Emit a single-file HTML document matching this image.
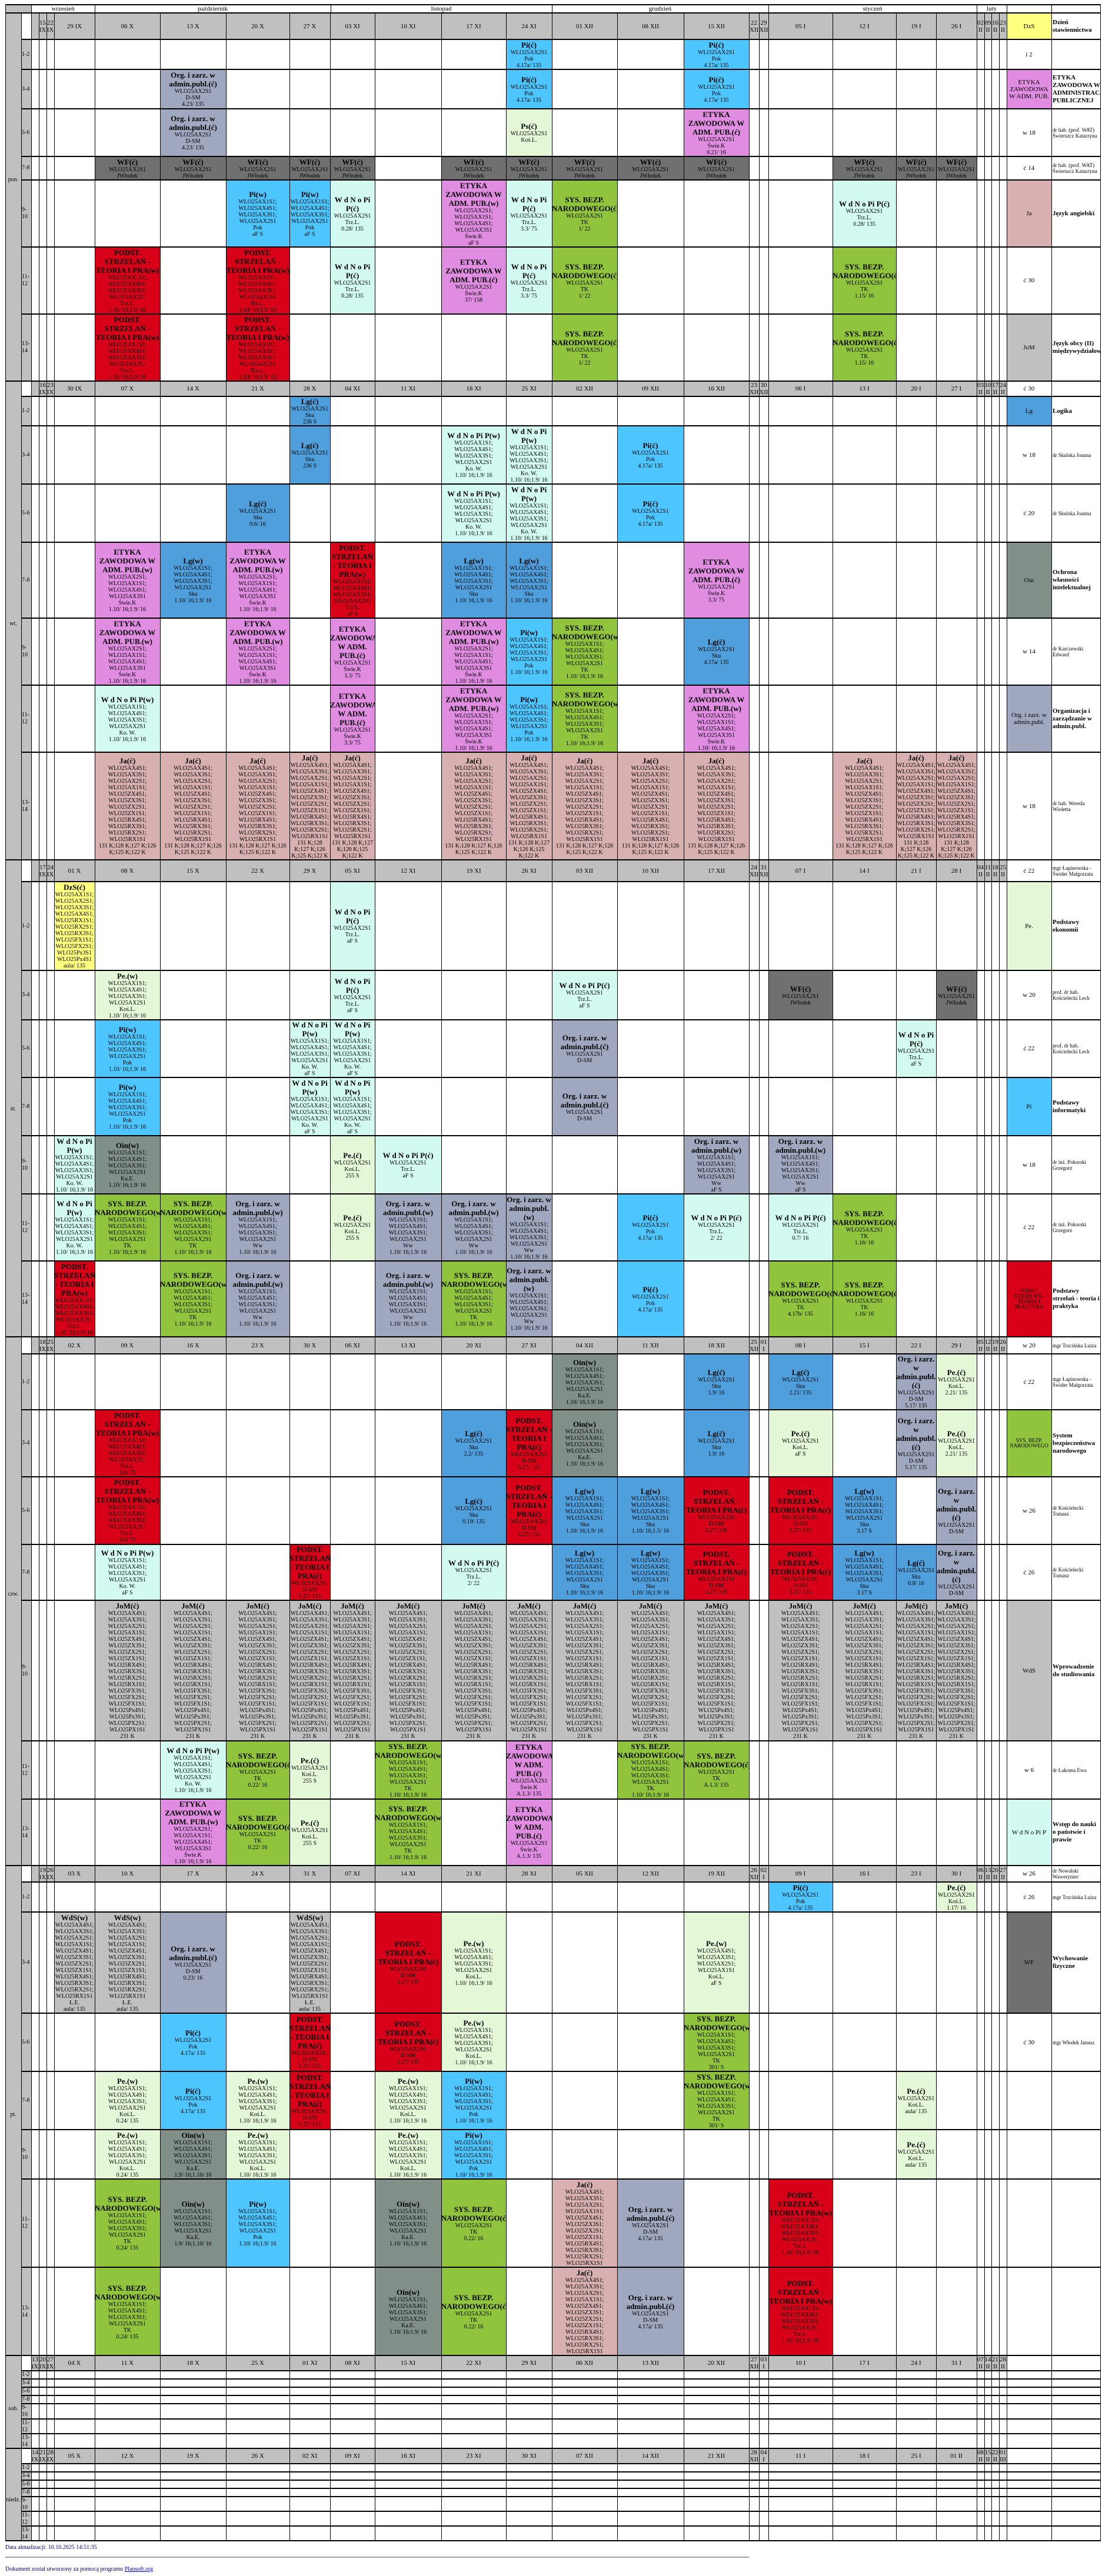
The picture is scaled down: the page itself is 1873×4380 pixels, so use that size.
<!DOCTYPE html>
<html><head><meta charset="utf-8">
<style>
*{margin:0;padding:0;box-sizing:border-box}
body{width:1873px;height:4380px;background:#fff;position:relative;overflow:hidden;font-family:"Liberation Serif",serif;color:#000}
div{position:absolute}
.g{background:#c0c0c0}
.b{display:flex;align-items:center;justify-content:center;text-align:center;overflow:hidden;font:10px/11px "Liberation Serif",serif}
.b>div{position:static;width:100%}
.b b{font-size:13px;line-height:15px}
.h{display:flex;align-items:center;justify-content:center;text-align:center;font:11px/12px "Liberation Serif",serif;overflow:hidden}
.hr{display:flex;align-items:center;left:37px;width:16px;font:10px/12px "Liberation Serif",serif}
.vl{width:1px;background:#000;top:22px;height:4298px}
.hl{height:2px;background:#000;left:36px;width:1835px}
.hd{height:2px;background:#000;left:9px;width:1862px}
.dl{left:9px;width:27px;font:10px "Liberation Serif",serif;text-align:center}
.q{font:bold 11px/13px "Liberation Serif",serif;padding-left:2px;display:flex;align-items:center;overflow:hidden}
.qs{font:9px/10px "Liberation Serif",serif;padding-left:2px;display:flex;align-items:center;overflow:hidden}
.pi{background:#4dc6ff}.lg{background:#4f9fdc}.org{background:#a0a8c0}.wf{background:#707070}
.et{background:#e08ce0}.mi{background:#d2faf0}.pe{background:#e4f8d8}.sy{background:#90c43c}
.rd{background:#d80018}.ja{background:#d8b0b0}.jo{background:#c0c0c0}.oi{background:#809088}.ye{background:#ffff80}
.cA{left:92px;width:69px}.cB{left:161px;width:111px}.cC{left:272px;width:112px}.cD{left:384px;width:108px}
.cE{left:492px;width:69px}.cF{left:561px;width:76px}.cG{left:637px;width:113px}.cH{left:750px;width:110px}
.cI{left:860px;width:78px}.cJ{left:938px;width:111px}.cK{left:1049px;width:113px}.cL{left:1162px;width:111px}
.cX1{left:1273px;width:17px}.cX2{left:1290px;width:16px}
.cM{left:1306px;width:109px}.cN{left:1415px;width:108px}.cO{left:1523px;width:68px}.cP{left:1591px;width:69px}
.f1{left:1660px;width:13px}.f2{left:1673px;width:12px}.f3{left:1685px;width:13px}.f4{left:1698px;width:13px}
.s1{left:53px;width:13px}.s2{left:66px;width:13px}.s3{left:79px;width:13px}
.cZ{left:1711px;width:76px}.cQ{left:1787px;width:84px}
.sm{font-size:9px;line-height:9px}
</style></head><body>

<!-- background fills -->
<div class="g" style="left:9px;top:8px;width:44px;height:14px"></div>
<div class="g" style="left:9px;top:22px;width:27px;height:4298px"></div>
<div class="g" style="left:36px;top:22px;width:17px;height:4298px"></div>
<!-- header rows -->
<div style="left:36px;top:22px;width:17px;height:45px;background:#fff"></div>
<div class="g" style="left:53px;top:22px;width:1658px;height:45px"></div>
<div style="left:36px;top:648px;width:17px;height:26px;background:#fff"></div>
<div class="g" style="left:53px;top:648px;width:1658px;height:26px"></div>
<div style="left:36px;top:1462px;width:17px;height:37px;background:#fff"></div>
<div class="g" style="left:53px;top:1462px;width:1658px;height:37px"></div>
<div style="left:36px;top:2273px;width:17px;height:29px;background:#fff"></div>
<div class="g" style="left:53px;top:2273px;width:1658px;height:29px"></div>
<div style="left:36px;top:3172px;width:17px;height:28px;background:#fff"></div>
<div class="g" style="left:53px;top:3172px;width:1658px;height:28px"></div>
<div style="left:36px;top:4005px;width:17px;height:26px;background:#fff"></div>
<div class="g" style="left:53px;top:4005px;width:1658px;height:26px"></div>
<div style="left:36px;top:4163px;width:17px;height:26px;background:#fff"></div>
<div class="g" style="left:53px;top:4163px;width:1658px;height:26px"></div>

<!-- month row -->
<div class="h" style="left:53px;top:8px;width:108px;height:14px">wrzesień</div>
<div class="h" style="left:161px;top:8px;width:401px;height:14px">październik</div>
<div class="h" style="left:562px;top:8px;width:376px;height:14px">listopad</div>
<div class="h" style="left:938px;top:8px;width:368px;height:14px">grudzień</div>
<div class="h" style="left:1306px;top:8px;width:354px;height:14px">styczeń</div>
<div class="h" style="left:1660px;top:8px;width:51px;height:14px">luty</div>

<!-- ============ PON ============ -->
<div class="h s2" style="top:22px;height:45px">15<br>IX</div><div class="h s3" style="top:22px;height:45px">22<br>IX</div>
<div class="h cA" style="top:22px;height:45px">29 IX</div><div class="h cB" style="top:22px;height:45px">06 X</div><div class="h cC" style="top:22px;height:45px">13 X</div><div class="h cD" style="top:22px;height:45px">20 X</div><div class="h cE" style="top:22px;height:45px">27 X</div><div class="h cF" style="top:22px;height:45px">03 XI</div><div class="h cG" style="top:22px;height:45px">10 XI</div><div class="h cH" style="top:22px;height:45px">17 XI</div><div class="h cI" style="top:22px;height:45px">24 XI</div><div class="h cJ" style="top:22px;height:45px">01 XII</div><div class="h cK" style="top:22px;height:45px">08 XII</div><div class="h cL" style="top:22px;height:45px">15 XII</div><div class="h cX1" style="top:22px;height:45px">22<br>XII</div><div class="h cX2" style="top:22px;height:45px">29<br>XII</div><div class="h cM" style="top:22px;height:45px">05 I</div><div class="h cN" style="top:22px;height:45px">12 I</div><div class="h cO" style="top:22px;height:45px">19 I</div><div class="h cP" style="top:22px;height:45px">26 I</div><div class="h f1" style="top:22px;height:45px">02<br>II</div><div class="h f2" style="top:22px;height:45px">09<br>II</div><div class="h f3" style="top:22px;height:45px">16<br>II</div><div class="h f4" style="top:22px;height:45px">23<br>II</div>
<div class="h cZ ye" style="top:22px;height:45px">DzS</div><div class="q cQ" style="top:22px;height:45px">Dzień stawiennictwa</div>
<div class="dl" style="top:300px">pon.</div>
<div class="hr" style="top:67px;height:51px">1-2</div><div class="hr" style="top:118px;height:67px">3-4</div><div class="hr" style="top:185px;height:81px">5-6</div><div class="hr" style="top:266px;height:40px">7-8</div><div class="hr" style="top:306px;height:114px">9-<br>10</div><div class="hr" style="top:420px;height:114px">11-<br>12</div><div class="hr" style="top:534px;height:114px">13-<br>14</div>

<div class="b pi cI" style="top:67px;height:51px"><div><b>Pi(ć)</b><br>WLO25AX2S1<br>Pok<br>4.17a/ 135</div></div>
<div class="b pi cL" style="top:67px;height:51px"><div><b>Pi(ć)</b><br>WLO25AX2S1<br>Pok<br>4.17a/ 135</div></div>
<div class="b org cC" style="top:118px;height:67px"><div><b>Org. i zarz. w admin.publ.(ć)</b><br>WLO25AX2S1<br>D-SM<br>4.23/ 135</div></div>
<div class="b pi cI" style="top:118px;height:67px"><div><b>Pi(ć)</b><br>WLO25AX2S1<br>Pok<br>4.17a/ 135</div></div>
<div class="b pi cL" style="top:118px;height:67px"><div><b>Pi(ć)</b><br>WLO25AX2S1<br>Pok<br>4.17a/ 135</div></div>
<div class="b org cC" style="top:185px;height:81px"><div><b>Org. i zarz. w admin.publ.(ć)</b><br>WLO25AX2S1<br>D-SM<br>4.23/ 135</div></div>
<div class="b pe cI" style="top:185px;height:81px"><div><b>Ps(ć)</b><br>WLO25AX2S1<br>Koś.L.</div></div>
<div class="b et cL" style="top:185px;height:81px"><div><b>ETYKA ZAWODOWA W ADM. PUB.(ć)</b><br>WLO25AX2S1<br>Świe.K<br>0.21/ 16</div></div>
<div class="b wf cB" style="top:266px;height:40px"><div><b>WF(ć)</b><br>WLO25AX2S1<br>JWłodek</div></div>
<div class="b wf cC" style="top:266px;height:40px"><div><b>WF(ć)</b><br>WLO25AX2S1<br>JWłodek</div></div>
<div class="b wf cD" style="top:266px;height:40px"><div><b>WF(ć)</b><br>WLO25AX2S1<br>JWłodek</div></div>
<div class="b wf cE" style="top:266px;height:40px"><div><b>WF(ć)</b><br>WLO25AX2S1<br>JWłodek</div></div>
<div class="b wf cF" style="top:266px;height:40px"><div><b>WF(ć)</b><br>WLO25AX2S1<br>JWłodek</div></div>
<div class="b wf cH" style="top:266px;height:40px"><div><b>WF(ć)</b><br>WLO25AX2S1<br>JWłodek</div></div>
<div class="b wf cI" style="top:266px;height:40px"><div><b>WF(ć)</b><br>WLO25AX2S1<br>JWłodek</div></div>
<div class="b wf cJ" style="top:266px;height:40px"><div><b>WF(ć)</b><br>WLO25AX2S1<br>JWłodek</div></div>
<div class="b wf cK" style="top:266px;height:40px"><div><b>WF(ć)</b><br>WLO25AX2S1<br>JWłodek</div></div>
<div class="b wf cL" style="top:266px;height:40px"><div><b>WF(ć)</b><br>WLO25AX2S1<br>JWłodek</div></div>
<div class="b wf cN" style="top:266px;height:40px"><div><b>WF(ć)</b><br>WLO25AX2S1<br>JWłodek</div></div>
<div class="b wf cO" style="top:266px;height:40px"><div><b>WF(ć)</b><br>WLO25AX2S1<br>JWłodek</div></div>
<div class="b wf cP" style="top:266px;height:40px"><div><b>WF(ć)</b><br>WLO25AX2S1<br>JWłodek</div></div>
<div class="b pi cD" style="top:306px;height:114px"><div><b>Pi(w)</b><br>WLO25AX1S1;<br>WLO25AX4S1;<br>WLO25AX3S1;<br>WLO25AX2S1<br>Pok<br>aF S</div></div>
<div class="b pi cE" style="top:306px;height:114px"><div><b>Pi(w)</b><br>WLO25AX1S1;<br>WLO25AX4S1;<br>WLO25AX3S1;<br>WLO25AX2S1<br>Pok<br>aF S</div></div>
<div class="b mi cF" style="top:306px;height:114px"><div><b>W d N o Pi P(ć)</b><br>WLO25AX2S1<br>Trz.L.<br>0.28/ 135</div></div>
<div class="b et cH" style="top:306px;height:114px"><div><b>ETYKA ZAWODOWA W ADM. PUB.(w)</b><br>WLO25AX2S1;<br>WLO25AX1S1;<br>WLO25AX4S1;<br>WLO25AX3S1<br>Świe.K<br>aF S</div></div>
<div class="b mi cI" style="top:306px;height:114px"><div><b>W d N o Pi P(ć)</b><br>WLO25AX2S1<br>Trz.L.<br>3.3/ 75</div></div>
<div class="b sy cJ" style="top:306px;height:114px"><div><b>SYS. BEZP. NARODOWEGO(ć)</b><br>WLO25AX2S1<br>TK<br>1/ 22</div></div>
<div class="b mi cN" style="top:306px;height:114px"><div><b>W d N o Pi P(ć)</b><br>WLO25AX2S1<br>Trz.L.<br>0.28/ 135</div></div>
<div class="b rd cB" style="top:420px;height:114px"><div><b>PODST. STRZELAŃ - TEORIA I PRA(w)</b><br>WLO25AX1S1;<br>WLO25AX4S1;<br>WLO25AX3S1;<br>WLO25AX2S1<br>Trz.L.<br>1.10/ 16;1.9/ 16</div></div>
<div class="b rd cD" style="top:420px;height:114px"><div><b>PODST. STRZELAŃ - TEORIA I PRA(w)</b><br>WLO25AX1S1;<br>WLO25AX4S1;<br>WLO25AX3S1;<br>WLO25AX2S1<br>Trz.L.<br>1.10/ 16;1.9/ 16</div></div>
<div class="b mi cF" style="top:420px;height:114px"><div><b>W d N o Pi P(ć)</b><br>WLO25AX2S1<br>Trz.L.<br>0.28/ 135</div></div>
<div class="b et cH" style="top:420px;height:114px"><div><b>ETYKA ZAWODOWA W ADM. PUB.(ć)</b><br>WLO25AX2S1<br>Świe.K<br>37/ 158</div></div>
<div class="b mi cI" style="top:420px;height:114px"><div><b>W d N o Pi P(ć)</b><br>WLO25AX2S1<br>Trz.L.<br>3.3/ 75</div></div>
<div class="b sy cJ" style="top:420px;height:114px"><div><b>SYS. BEZP. NARODOWEGO(ć)</b><br>WLO25AX2S1<br>TK<br>1/ 22</div></div>
<div class="b sy cN" style="top:420px;height:114px"><div><b>SYS. BEZP. NARODOWEGO(ć)</b><br>WLO25AX2S1<br>TK<br>1.15/ 16</div></div>
<div class="b rd cB" style="top:534px;height:114px"><div><b>PODST. STRZELAŃ - TEORIA I PRA(w)</b><br>WLO25AX1S1;<br>WLO25AX4S1;<br>WLO25AX3S1;<br>WLO25AX2S1<br>Trz.L.<br>1.10/ 16;1.9/ 16</div></div>
<div class="b rd cD" style="top:534px;height:114px"><div><b>PODST. STRZELAŃ - TEORIA I PRA(w)</b><br>WLO25AX1S1;<br>WLO25AX4S1;<br>WLO25AX3S1;<br>WLO25AX2S1<br>Trz.L.<br>1.10/ 16;1.9/ 16</div></div>
<div class="b sy cJ" style="top:534px;height:114px"><div><b>SYS. BEZP. NARODOWEGO(ć)</b><br>WLO25AX2S1<br>TK<br>1/ 22</div></div>
<div class="b sy cN" style="top:534px;height:114px"><div><b>SYS. BEZP. NARODOWEGO(ć)</b><br>WLO25AX2S1<br>TK<br>1.15/ 16</div></div>
<!-- legend pon -->
<div class="h cZ" style="top:67px;height:51px">i 2</div>
<div class="h cZ et" style="top:118px;height:67px">ETYKA ZAWODOWA W ADM. PUB.</div><div class="q cQ" style="top:118px;height:67px">ETYKA ZAWODOWA W ADMINISTRACJI PUBLICZNEJ</div>
<div class="h cZ" style="top:185px;height:81px">w 18</div><div class="qs cQ" style="top:185px;height:81px">dr hab. (prof. WAT) Świerszcz Katarzyna</div>
<div class="h cZ" style="top:266px;height:40px">ć 14</div><div class="qs cQ" style="top:266px;height:40px">dr hab. (prof. WAT) Świerszcz Katarzyna</div>
<div class="h cZ ja" style="top:306px;height:114px">Ja</div><div class="q cQ" style="top:306px;height:114px">Język angielski</div>
<div class="h cZ" style="top:420px;height:114px">ć 30</div>
<div class="h cZ jo" style="top:534px;height:114px">JoM</div><div class="q cQ" style="top:534px;height:114px">Język obcy (II) międzywydziałowy</div>

<!-- ============ WT ============ -->
<div class="h s2" style="top:648px;height:26px">16<br>IX</div><div class="h s3" style="top:648px;height:26px">23<br>IX</div>
<div class="h cA" style="top:648px;height:26px">30 IX</div><div class="h cB" style="top:648px;height:26px">07 X</div><div class="h cC" style="top:648px;height:26px">14 X</div><div class="h cD" style="top:648px;height:26px">21 X</div><div class="h cE" style="top:648px;height:26px">28 X</div><div class="h cF" style="top:648px;height:26px">04 XI</div><div class="h cG" style="top:648px;height:26px">11 XI</div><div class="h cH" style="top:648px;height:26px">18 XI</div><div class="h cI" style="top:648px;height:26px">25 XI</div><div class="h cJ" style="top:648px;height:26px">02 XII</div><div class="h cK" style="top:648px;height:26px">09 XII</div><div class="h cL" style="top:648px;height:26px">16 XII</div><div class="h cX1" style="top:648px;height:26px">23<br>XII</div><div class="h cX2" style="top:648px;height:26px">30<br>XII</div><div class="h cM" style="top:648px;height:26px">06 I</div><div class="h cN" style="top:648px;height:26px">13 I</div><div class="h cO" style="top:648px;height:26px">20 I</div><div class="h cP" style="top:648px;height:26px">27 I</div><div class="h f1" style="top:648px;height:26px">03<br>II</div><div class="h f2" style="top:648px;height:26px">10<br>II</div><div class="h f3" style="top:648px;height:26px">17<br>II</div><div class="h f4" style="top:648px;height:26px">24<br>II</div>
<div class="h cZ" style="top:648px;height:26px;background:#fff">ć 30</div><div style="left:1787px;top:648px;width:84px;height:26px;background:#fff"></div>
<div class="dl" style="top:1055px">wt.</div>
<div class="hr" style="top:674px;height:50px">1-2</div><div class="hr" style="top:724px;height:99px">3-4</div><div class="hr" style="top:823px;height:99px">5-6</div><div class="hr" style="top:922px;height:129px">7-8</div><div class="hr" style="top:1051px;height:114px">9-<br>10</div><div class="hr" style="top:1165px;height:114px">11-<br>12</div><div class="hr" style="top:1279px;height:183px">13-<br>14</div>

<div class="b lg cE" style="top:674px;height:50px"><div><b>Lg(ć)</b><br>WLO25AX2S1<br>Sku<br>236 S</div></div>
<div class="b lg cE" style="top:724px;height:99px"><div><b>Lg(ć)</b><br>WLO25AX2S1<br>Sku<br>236 S</div></div>
<div class="b mi cH" style="top:724px;height:99px"><div><b>W d N o Pi P(w)</b><br>WLO25AX1S1;<br>WLO25AX4S1;<br>WLO25AX3S1;<br>WLO25AX2S1<br>Ko. W.<br>1.10/ 16;1.9/ 16</div></div>
<div class="b mi cI" style="top:724px;height:99px"><div><b>W d N o Pi P(w)</b><br>WLO25AX1S1;<br>WLO25AX4S1;<br>WLO25AX3S1;<br>WLO25AX2S1<br>Ko. W.<br>1.10/ 16;1.9/ 16</div></div>
<div class="b pi cK" style="top:724px;height:99px"><div><b>Pi(ć)</b><br>WLO25AX2S1<br>Pok<br>4.17a/ 135</div></div>
<div class="b lg cD" style="top:823px;height:99px"><div><b>Lg(ć)</b><br>WLO25AX2S1<br>Sku<br>0.6/ 16</div></div>
<div class="b mi cH" style="top:823px;height:99px"><div><b>W d N o Pi P(w)</b><br>WLO25AX1S1;<br>WLO25AX4S1;<br>WLO25AX3S1;<br>WLO25AX2S1<br>Ko. W.<br>1.10/ 16;1.9/ 16</div></div>
<div class="b mi cI" style="top:823px;height:99px"><div><b>W d N o Pi P(w)</b><br>WLO25AX1S1;<br>WLO25AX4S1;<br>WLO25AX3S1;<br>WLO25AX2S1<br>Ko. W.<br>1.10/ 16;1.9/ 16</div></div>
<div class="b pi cK" style="top:823px;height:99px"><div><b>Pi(ć)</b><br>WLO25AX2S1<br>Pok<br>4.17a/ 135</div></div>
<div class="b et cB" style="top:922px;height:129px"><div><b>ETYKA ZAWODOWA W ADM. PUB.(w)</b><br>WLO25AX2S1;<br>WLO25AX1S1;<br>WLO25AX4S1;<br>WLO25AX3S1<br>Świe.K<br>1.10/ 16;1.9/ 16</div></div>
<div class="b lg cC" style="top:922px;height:129px"><div><b>Lg(w)</b><br>WLO25AX1S1;<br>WLO25AX4S1;<br>WLO25AX3S1;<br>WLO25AX2S1<br>Sku<br>1.10/ 16;1.9/ 16</div></div>
<div class="b et cD" style="top:922px;height:129px"><div><b>ETYKA ZAWODOWA W ADM. PUB.(w)</b><br>WLO25AX2S1;<br>WLO25AX1S1;<br>WLO25AX4S1;<br>WLO25AX3S1<br>Świe.K<br>1.10/ 16;1.9/ 16</div></div>
<div class="b rd cF" style="top:922px;height:129px"><div><b>PODST. STRZELAŃ - TEORIA I PRA(w)</b><br>WLO25AX1S1;<br>WLO25AX4S1;<br>WLO25AX3S1;<br>WLO25AX2S1<br>Trz.L.<br>aF S</div></div>
<div class="b lg cH" style="top:922px;height:129px"><div><b>Lg(w)</b><br>WLO25AX1S1;<br>WLO25AX4S1;<br>WLO25AX3S1;<br>WLO25AX2S1<br>Sku<br>1.10/ 16;1.9/ 16</div></div>
<div class="b lg cI" style="top:922px;height:129px"><div><b>Lg(w)</b><br>WLO25AX1S1;<br>WLO25AX4S1;<br>WLO25AX3S1;<br>WLO25AX2S1<br>Sku<br>1.10/ 16;1.9/ 16</div></div>
<div class="b et cL" style="top:922px;height:129px"><div><b>ETYKA ZAWODOWA W ADM. PUB.(ć)</b><br>WLO25AX2S1<br>Świe.K<br>3.3/ 75</div></div>
<div class="b et cB" style="top:1051px;height:114px"><div><b>ETYKA ZAWODOWA W ADM. PUB.(w)</b><br>WLO25AX2S1;<br>WLO25AX1S1;<br>WLO25AX4S1;<br>WLO25AX3S1<br>Świe.K<br>1.10/ 16;1.9/ 16</div></div>
<div class="b et cD" style="top:1051px;height:114px"><div><b>ETYKA ZAWODOWA W ADM. PUB.(w)</b><br>WLO25AX2S1;<br>WLO25AX1S1;<br>WLO25AX4S1;<br>WLO25AX3S1<br>Świe.K<br>1.10/ 16;1.9/ 16</div></div>
<div class="b et cF" style="top:1051px;height:114px"><div><b>ETYKA ZAWODOWA W ADM. PUB.(ć)</b><br>WLO25AX2S1<br>Świe.K<br>3.3/ 75</div></div>
<div class="b et cH" style="top:1051px;height:114px"><div><b>ETYKA ZAWODOWA W ADM. PUB.(w)</b><br>WLO25AX2S1;<br>WLO25AX1S1;<br>WLO25AX4S1;<br>WLO25AX3S1<br>Świe.K<br>1.10/ 16;1.9/ 16</div></div>
<div class="b pi cI" style="top:1051px;height:114px"><div><b>Pi(w)</b><br>WLO25AX1S1;<br>WLO25AX4S1;<br>WLO25AX3S1;<br>WLO25AX2S1<br>Pok<br>1.10/ 16;1.9/ 16</div></div>
<div class="b sy cJ" style="top:1051px;height:114px"><div><b>SYS. BEZP. NARODOWEGO(w)</b><br>WLO25AX1S1;<br>WLO25AX4S1;<br>WLO25AX3S1;<br>WLO25AX2S1<br>TK<br>1.10/ 16;1.9/ 16</div></div>
<div class="b lg cL" style="top:1051px;height:114px"><div><b>Lg(ć)</b><br>WLO25AX2S1<br>Sku<br>4.17a/ 135</div></div>
<div class="b mi cB" style="top:1165px;height:114px"><div><b>W d N o Pi P(w)</b><br>WLO25AX1S1;<br>WLO25AX4S1;<br>WLO25AX3S1;<br>WLO25AX2S1<br>Ko. W.<br>1.10/ 16;1.9/ 16</div></div>
<div class="b et cF" style="top:1165px;height:114px"><div><b>ETYKA ZAWODOWA W ADM. PUB.(ć)</b><br>WLO25AX2S1<br>Świe.K<br>3.3/ 75</div></div>
<div class="b et cH" style="top:1165px;height:114px"><div><b>ETYKA ZAWODOWA W ADM. PUB.(w)</b><br>WLO25AX2S1;<br>WLO25AX1S1;<br>WLO25AX4S1;<br>WLO25AX3S1<br>Świe.K<br>1.10/ 16;1.9/ 16</div></div>
<div class="b pi cI" style="top:1165px;height:114px"><div><b>Pi(w)</b><br>WLO25AX1S1;<br>WLO25AX4S1;<br>WLO25AX3S1;<br>WLO25AX2S1<br>Pok<br>1.10/ 16;1.9/ 16</div></div>
<div class="b sy cJ" style="top:1165px;height:114px"><div><b>SYS. BEZP. NARODOWEGO(w)</b><br>WLO25AX1S1;<br>WLO25AX4S1;<br>WLO25AX3S1;<br>WLO25AX2S1<br>TK<br>1.10/ 16;1.9/ 16</div></div>
<div class="b et cL" style="top:1165px;height:114px"><div><b>ETYKA ZAWODOWA W ADM. PUB.(w)</b><br>WLO25AX2S1;<br>WLO25AX1S1;<br>WLO25AX4S1;<br>WLO25AX3S1<br>Świe.K<br>1.10/ 16;1.9/ 16</div></div>
<div class="b ja cB" style="top:1279px;height:183px"><div><b>Ja(ć)</b><br>WLO25AX4S1;<br>WLO25AX3S1;<br>WLO25AX2S1;<br>WLO25AX1S1;<br>WLO25ZX4S1;<br>WLO25ZX3S1;<br>WLO25ZX2S1;<br>WLO25ZX1S1;<br>WLO25RX4S1;<br>WLO25RX3S1;<br>WLO25RX2S1;<br>WLO25RX1S1<br>131 K;128 K;127 K;126 K;125 K;122 K</div></div>
<div class="b ja cC" style="top:1279px;height:183px"><div><b>Ja(ć)</b><br>WLO25AX4S1;<br>WLO25AX3S1;<br>WLO25AX2S1;<br>WLO25AX1S1;<br>WLO25ZX4S1;<br>WLO25ZX3S1;<br>WLO25ZX2S1;<br>WLO25ZX1S1;<br>WLO25RX4S1;<br>WLO25RX3S1;<br>WLO25RX2S1;<br>WLO25RX1S1<br>131 K;128 K;127 K;126 K;125 K;122 K</div></div>
<div class="b ja cD" style="top:1279px;height:183px"><div><b>Ja(ć)</b><br>WLO25AX4S1;<br>WLO25AX3S1;<br>WLO25AX2S1;<br>WLO25AX1S1;<br>WLO25ZX4S1;<br>WLO25ZX3S1;<br>WLO25ZX2S1;<br>WLO25ZX1S1;<br>WLO25RX4S1;<br>WLO25RX3S1;<br>WLO25RX2S1;<br>WLO25RX1S1<br>131 K;128 K;127 K;126 K;125 K;122 K</div></div>
<div class="b ja cE" style="top:1279px;height:183px"><div><b>Ja(ć)</b><br>WLO25AX4S1;<br>WLO25AX3S1;<br>WLO25AX2S1;<br>WLO25AX1S1;<br>WLO25ZX4S1;<br>WLO25ZX3S1;<br>WLO25ZX2S1;<br>WLO25ZX1S1;<br>WLO25RX4S1;<br>WLO25RX3S1;<br>WLO25RX2S1;<br>WLO25RX1S1<br>131 K;128 K;127 K;126 K;125 K;122 K</div></div>
<div class="b ja cF" style="top:1279px;height:183px"><div><b>Ja(ć)</b><br>WLO25AX4S1;<br>WLO25AX3S1;<br>WLO25AX2S1;<br>WLO25AX1S1;<br>WLO25ZX4S1;<br>WLO25ZX3S1;<br>WLO25ZX2S1;<br>WLO25ZX1S1;<br>WLO25RX4S1;<br>WLO25RX3S1;<br>WLO25RX2S1;<br>WLO25RX1S1<br>131 K;128 K;127 K;126 K;125 K;122 K</div></div>
<div class="b ja cH" style="top:1279px;height:183px"><div><b>Ja(ć)</b><br>WLO25AX4S1;<br>WLO25AX3S1;<br>WLO25AX2S1;<br>WLO25AX1S1;<br>WLO25ZX4S1;<br>WLO25ZX3S1;<br>WLO25ZX2S1;<br>WLO25ZX1S1;<br>WLO25RX4S1;<br>WLO25RX3S1;<br>WLO25RX2S1;<br>WLO25RX1S1<br>131 K;128 K;127 K;126 K;125 K;122 K</div></div>
<div class="b ja cI" style="top:1279px;height:183px"><div><b>Ja(ć)</b><br>WLO25AX4S1;<br>WLO25AX3S1;<br>WLO25AX2S1;<br>WLO25AX1S1;<br>WLO25ZX4S1;<br>WLO25ZX3S1;<br>WLO25ZX2S1;<br>WLO25ZX1S1;<br>WLO25RX4S1;<br>WLO25RX3S1;<br>WLO25RX2S1;<br>WLO25RX1S1<br>131 K;128 K;127 K;126 K;125 K;122 K</div></div>
<div class="b ja cJ" style="top:1279px;height:183px"><div><b>Ja(ć)</b><br>WLO25AX4S1;<br>WLO25AX3S1;<br>WLO25AX2S1;<br>WLO25AX1S1;<br>WLO25ZX4S1;<br>WLO25ZX3S1;<br>WLO25ZX2S1;<br>WLO25ZX1S1;<br>WLO25RX4S1;<br>WLO25RX3S1;<br>WLO25RX2S1;<br>WLO25RX1S1<br>131 K;128 K;127 K;126 K;125 K;122 K</div></div>
<div class="b ja cK" style="top:1279px;height:183px"><div><b>Ja(ć)</b><br>WLO25AX4S1;<br>WLO25AX3S1;<br>WLO25AX2S1;<br>WLO25AX1S1;<br>WLO25ZX4S1;<br>WLO25ZX3S1;<br>WLO25ZX2S1;<br>WLO25ZX1S1;<br>WLO25RX4S1;<br>WLO25RX3S1;<br>WLO25RX2S1;<br>WLO25RX1S1<br>131 K;128 K;127 K;126 K;125 K;122 K</div></div>
<div class="b ja cL" style="top:1279px;height:183px"><div><b>Ja(ć)</b><br>WLO25AX4S1;<br>WLO25AX3S1;<br>WLO25AX2S1;<br>WLO25AX1S1;<br>WLO25ZX4S1;<br>WLO25ZX3S1;<br>WLO25ZX2S1;<br>WLO25ZX1S1;<br>WLO25RX4S1;<br>WLO25RX3S1;<br>WLO25RX2S1;<br>WLO25RX1S1<br>131 K;128 K;127 K;126 K;125 K;122 K</div></div>
<div class="b ja cN" style="top:1279px;height:183px"><div><b>Ja(ć)</b><br>WLO25AX4S1;<br>WLO25AX3S1;<br>WLO25AX2S1;<br>WLO25AX1S1;<br>WLO25ZX4S1;<br>WLO25ZX3S1;<br>WLO25ZX2S1;<br>WLO25ZX1S1;<br>WLO25RX4S1;<br>WLO25RX3S1;<br>WLO25RX2S1;<br>WLO25RX1S1<br>131 K;128 K;127 K;126 K;125 K;122 K</div></div>
<div class="b ja cO" style="top:1279px;height:183px"><div><b>Ja(ć)</b><br>WLO25AX4S1;<br>WLO25AX3S1;<br>WLO25AX2S1;<br>WLO25AX1S1;<br>WLO25ZX4S1;<br>WLO25ZX3S1;<br>WLO25ZX2S1;<br>WLO25ZX1S1;<br>WLO25RX4S1;<br>WLO25RX3S1;<br>WLO25RX2S1;<br>WLO25RX1S1<br>131 K;128 K;127 K;126 K;125 K;122 K</div></div>
<div class="b ja cP" style="top:1279px;height:183px"><div><b>Ja(ć)</b><br>WLO25AX4S1;<br>WLO25AX3S1;<br>WLO25AX2S1;<br>WLO25AX1S1;<br>WLO25ZX4S1;<br>WLO25ZX3S1;<br>WLO25ZX2S1;<br>WLO25ZX1S1;<br>WLO25RX4S1;<br>WLO25RX3S1;<br>WLO25RX2S1;<br>WLO25RX1S1<br>131 K;128 K;127 K;126 K;125 K;122 K</div></div>
<!-- legend wt -->
<div class="h cZ lg" style="top:674px;height:50px">Lg</div><div class="q cQ" style="top:674px;height:50px">Logika</div>
<div class="h cZ" style="top:724px;height:99px">w 18</div><div class="qs cQ" style="top:724px;height:99px">dr Skulska Joanna</div>
<div class="h cZ" style="top:823px;height:99px">ć 20</div><div class="qs cQ" style="top:823px;height:99px">dr Skulska Joanna</div>
<div class="h cZ oi" style="top:922px;height:129px">Oin</div><div class="q cQ" style="top:922px;height:129px">Ochrona własności intelektualnej</div>
<div class="h cZ" style="top:1051px;height:114px">w 14</div><div class="qs cQ" style="top:1051px;height:114px">dr Karczewski Edward</div>
<div class="h cZ org" style="top:1165px;height:114px">Org. i zarz. w admin.publ.</div><div class="q cQ" style="top:1165px;height:114px">Organizacja i zarządzanie w admin.publ.</div>
<div class="h cZ" style="top:1279px;height:183px">w 18</div><div class="qs cQ" style="top:1279px;height:183px">dr hab. Wereda Wioletta</div>

<!-- ============ ŚR ============ -->
<div class="h s2" style="top:1462px;height:37px">17<br>IX</div><div class="h s3" style="top:1462px;height:37px">24<br>IX</div>
<div class="h cA" style="top:1462px;height:37px">01 X</div><div class="h cB" style="top:1462px;height:37px">08 X</div><div class="h cC" style="top:1462px;height:37px">15 X</div><div class="h cD" style="top:1462px;height:37px">22 X</div><div class="h cE" style="top:1462px;height:37px">29 X</div><div class="h cF" style="top:1462px;height:37px">05 XI</div><div class="h cG" style="top:1462px;height:37px">12 XI</div><div class="h cH" style="top:1462px;height:37px">19 XI</div><div class="h cI" style="top:1462px;height:37px">26 XI</div><div class="h cJ" style="top:1462px;height:37px">03 XII</div><div class="h cK" style="top:1462px;height:37px">10 XII</div><div class="h cL" style="top:1462px;height:37px">17 XII</div><div class="h cX1" style="top:1462px;height:37px">24<br>XII</div><div class="h cX2" style="top:1462px;height:37px">31<br>XII</div><div class="h cM" style="top:1462px;height:37px">07 I</div><div class="h cN" style="top:1462px;height:37px">14 I</div><div class="h cO" style="top:1462px;height:37px">21 I</div><div class="h cP" style="top:1462px;height:37px">28 I</div><div class="h f1" style="top:1462px;height:37px">04<br>II</div><div class="h f2" style="top:1462px;height:37px">11<br>II</div><div class="h f3" style="top:1462px;height:37px">18<br>II</div><div class="h f4" style="top:1462px;height:37px">25<br>II</div>
<div class="h cZ" style="top:1462px;height:37px;background:#fff">ć 22</div><div class="qs cQ" style="top:1462px;height:37px;background:#fff">mgr Łapinowska - Świder Małgorzata</div>
<div class="dl" style="top:1880px">śr.</div>
<div class="hr" style="top:1499px;height:151px">1-2</div><div class="hr" style="top:1650px;height:84px">3-4</div><div class="hr" style="top:1734px;height:98px">5-6</div><div class="hr" style="top:1832px;height:99px">7-8</div><div class="hr" style="top:1931px;height:99px">9-<br>10</div><div class="hr" style="top:2030px;height:114px">11-<br>12</div><div class="hr" style="top:2144px;height:129px">13-<br>14</div>

<div class="b ye cA" style="top:1499px;height:151px"><div><b>DzS(ć)</b><br>WLO25AX1S1;<br>WLO25AX2S1;<br>WLO25AX3S1;<br>WLO25AX4S1;<br>WLO25RX1S1;<br>WLO25RX2S1;<br>WLO25RX3S1;<br>WLO25FX1S1;<br>WLO25FX2S1;<br>WLO25Px3S1<br>WLO25Px4S1<br>aula/ 135</div></div>
<div class="b mi cF" style="top:1499px;height:151px"><div><b>W d N o Pi P(ć)</b><br>WLO25AX2S1<br>Trz.L.<br>aF S</div></div>
<div class="b pe cB" style="top:1650px;height:84px"><div><b>Pe.(w)</b><br>WLO25AX1S1;<br>WLO25AX4S1;<br>WLO25AX3S1;<br>WLO25AX2S1<br>Koś.L.<br>1.10/ 16;1.9/ 16</div></div>
<div class="b mi cF" style="top:1650px;height:84px"><div><b>W d N o Pi P(ć)</b><br>WLO25AX2S1<br>Trz.L.<br>aF S</div></div>
<div class="b mi cJ" style="top:1650px;height:84px"><div><b>W d N o Pi P(ć)</b><br>WLO25AX2S1<br>Trz.L.<br>aF S</div></div>
<div class="b wf cM" style="top:1650px;height:84px"><div><b>WF(ć)</b><br>WLO25AX2S1<br>JWłodek</div></div>
<div class="b wf cP" style="top:1650px;height:84px"><div><b>WF(ć)</b><br>WLO25AX2S1<br>JWłodek</div></div>
<div class="b pi cB" style="top:1734px;height:98px"><div><b>Pi(w)</b><br>WLO25AX1S1;<br>WLO25AX4S1;<br>WLO25AX3S1;<br>WLO25AX2S1<br>Pok<br>1.10/ 16;1.9/ 16</div></div>
<div class="b mi cE" style="top:1734px;height:98px"><div><b>W d N o Pi P(w)</b><br>WLO25AX1S1;<br>WLO25AX4S1;<br>WLO25AX3S1;<br>WLO25AX2S1<br>Ko. W.<br>aF S</div></div>
<div class="b mi cF" style="top:1734px;height:98px"><div><b>W d N o Pi P(w)</b><br>WLO25AX1S1;<br>WLO25AX4S1;<br>WLO25AX3S1;<br>WLO25AX2S1<br>Ko. W.<br>aF S</div></div>
<div class="b org cJ" style="top:1734px;height:98px"><div><b>Org. i zarz. w admin.publ.(ć)</b><br>WLO25AX2S1<br>D-SM</div></div>
<div class="b mi cO" style="top:1734px;height:98px"><div><b>W d N o Pi P(ć)</b><br>WLO25AX2S1<br>Trz.L.<br>aF S</div></div>
<div class="b pi cB" style="top:1832px;height:99px"><div><b>Pi(w)</b><br>WLO25AX1S1;<br>WLO25AX4S1;<br>WLO25AX3S1;<br>WLO25AX2S1<br>Pok<br>1.10/ 16;1.9/ 16</div></div>
<div class="b mi cE" style="top:1832px;height:99px"><div><b>W d N o Pi P(w)</b><br>WLO25AX1S1;<br>WLO25AX4S1;<br>WLO25AX3S1;<br>WLO25AX2S1<br>Ko. W.<br>aF S</div></div>
<div class="b mi cF" style="top:1832px;height:99px"><div><b>W d N o Pi P(w)</b><br>WLO25AX1S1;<br>WLO25AX4S1;<br>WLO25AX3S1;<br>WLO25AX2S1<br>Ko. W.<br>aF S</div></div>
<div class="b org cJ" style="top:1832px;height:99px"><div><b>Org. i zarz. w admin.publ.(ć)</b><br>WLO25AX2S1<br>D-SM</div></div>
<div class="b mi cA" style="top:1931px;height:99px"><div><b>W d N o Pi P(w)</b><br>WLO25AX1S1;<br>WLO25AX4S1;<br>WLO25AX3S1;<br>WLO25AX2S1<br>Ko. W.<br>1.10/ 16;1.9/ 16</div></div>
<div class="b oi cB" style="top:1931px;height:99px"><div><b>Oin(w)</b><br>WLO25AX1S1;<br>WLO25AX4S1;<br>WLO25AX3S1;<br>WLO25AX2S1<br>Ka.E.<br>1.10/ 16;1.9/ 16</div></div>
<div class="b pe cF" style="top:1931px;height:99px"><div><b>Pe.(ć)</b><br>WLO25AX2S1<br>Koś.L.<br>255 S</div></div>
<div class="b mi cG" style="top:1931px;height:99px"><div><b>W d N o Pi P(ć)</b><br>WLO25AX2S1<br>Trz.L.<br>aF S</div></div>
<div class="b org cL" style="top:1931px;height:99px"><div><b>Org. i zarz. w admin.publ.(w)</b><br>WLO25AX1S1;<br>WLO25AX4S1;<br>WLO25AX3S1;<br>WLO25AX2S1<br>Ww<br>aF S</div></div>
<div class="b org cM" style="top:1931px;height:99px"><div><b>Org. i zarz. w admin.publ.(w)</b><br>WLO25AX1S1;<br>WLO25AX4S1;<br>WLO25AX3S1;<br>WLO25AX2S1<br>Ww<br>aF S</div></div>
<div class="b mi cA" style="top:2030px;height:114px"><div><b>W d N o Pi P(w)</b><br>WLO25AX1S1;<br>WLO25AX4S1;<br>WLO25AX3S1;<br>WLO25AX2S1<br>Ko. W.<br>1.10/ 16;1.9/ 16</div></div>
<div class="b sy cB" style="top:2030px;height:114px"><div><b>SYS. BEZP. NARODOWEGO(w)</b><br>WLO25AX1S1;<br>WLO25AX4S1;<br>WLO25AX3S1;<br>WLO25AX2S1<br>TK<br>1.10/ 16;1.9/ 16</div></div>
<div class="b sy cC" style="top:2030px;height:114px"><div><b>SYS. BEZP. NARODOWEGO(w)</b><br>WLO25AX1S1;<br>WLO25AX4S1;<br>WLO25AX3S1;<br>WLO25AX2S1<br>TK<br>1.10/ 16;1.9/ 16</div></div>
<div class="b org cD" style="top:2030px;height:114px"><div><b>Org. i zarz. w admin.publ.(w)</b><br>WLO25AX1S1;<br>WLO25AX4S1;<br>WLO25AX3S1;<br>WLO25AX2S1<br>Ww<br>1.10/ 16;1.9/ 16</div></div>
<div class="b pe cF" style="top:2030px;height:114px"><div><b>Pe.(ć)</b><br>WLO25AX2S1<br>Koś.L.<br>255 S</div></div>
<div class="b org cG" style="top:2030px;height:114px"><div><b>Org. i zarz. w admin.publ.(w)</b><br>WLO25AX1S1;<br>WLO25AX4S1;<br>WLO25AX3S1;<br>WLO25AX2S1<br>Ww<br>1.10/ 16;1.9/ 16</div></div>
<div class="b org cH" style="top:2030px;height:114px"><div><b>Org. i zarz. w admin.publ.(w)</b><br>WLO25AX1S1;<br>WLO25AX4S1;<br>WLO25AX3S1;<br>WLO25AX2S1<br>Ww<br>1.10/ 16;1.9/ 16</div></div>
<div class="b org cI" style="top:2030px;height:114px"><div><b>Org. i zarz. w admin.publ. (w)</b><br>WLO25AX1S1;<br>WLO25AX4S1;<br>WLO25AX3S1;<br>WLO25AX2S1<br>Ww<br>1.10/ 16;1.9/ 16</div></div>
<div class="b pi cK" style="top:2030px;height:114px"><div><b>Pi(ć)</b><br>WLO25AX2S1<br>Pok<br>4.17a/ 135</div></div>
<div class="b mi cL" style="top:2030px;height:114px"><div><b>W d N o Pi P(ć)</b><br>WLO25AX2S1<br>Trz.L.<br>2/ 22</div></div>
<div class="b mi cM" style="top:2030px;height:114px"><div><b>W d N o Pi P(ć)</b><br>WLO25AX2S1<br>Trz.L.<br>0.7/ 16</div></div>
<div class="b sy cN" style="top:2030px;height:114px"><div><b>SYS. BEZP. NARODOWEGO(ć)</b><br>WLO25AX2S1<br>TK<br>1.16/ 16</div></div>
<div class="b rd cA" style="top:2144px;height:129px"><div><b>PODST. STRZELAŃ - TEORIA I PRA(w)</b><br>WLO25AX1S1;<br>WLO25AX4S1;<br>WLO25AX3S1;<br>WLO25AX2S1<br>Trz.L.<br>1.10/ 16;1.9/ 16</div></div>
<div class="b sy cC" style="top:2144px;height:129px"><div><b>SYS. BEZP. NARODOWEGO(w)</b><br>WLO25AX1S1;<br>WLO25AX4S1;<br>WLO25AX3S1;<br>WLO25AX2S1<br>TK<br>1.10/ 16;1.9/ 16</div></div>
<div class="b org cD" style="top:2144px;height:129px"><div><b>Org. i zarz. w admin.publ.(w)</b><br>WLO25AX1S1;<br>WLO25AX4S1;<br>WLO25AX3S1;<br>WLO25AX2S1<br>Ww<br>1.10/ 16;1.9/ 16</div></div>
<div class="b org cG" style="top:2144px;height:129px"><div><b>Org. i zarz. w admin.publ.(w)</b><br>WLO25AX1S1;<br>WLO25AX4S1;<br>WLO25AX3S1;<br>WLO25AX2S1<br>Ww<br>1.10/ 16;1.9/ 16</div></div>
<div class="b sy cH" style="top:2144px;height:129px"><div><b>SYS. BEZP. NARODOWEGO(w)</b><br>WLO25AX1S1;<br>WLO25AX4S1;<br>WLO25AX3S1;<br>WLO25AX2S1<br>TK<br>1.10/ 16;1.9/ 16</div></div>
<div class="b org cI" style="top:2144px;height:129px"><div><b>Org. i zarz. w admin.publ. (w)</b><br>WLO25AX1S1;<br>WLO25AX4S1;<br>WLO25AX3S1;<br>WLO25AX2S1<br>Ww<br>1.10/ 16;1.9/ 16</div></div>
<div class="b pi cK" style="top:2144px;height:129px"><div><b>Pi(ć)</b><br>WLO25AX2S1<br>Pok<br>4.17a/ 135</div></div>
<div class="b sy cM" style="top:2144px;height:129px"><div><b>SYS. BEZP. NARODOWEGO(ć)</b><br>WLO25AX2S1<br>TK<br>4.17b/ 135</div></div>
<div class="b sy cN" style="top:2144px;height:129px"><div><b>SYS. BEZP. NARODOWEGO(ć)</b><br>WLO25AX2S1<br>TK<br>1.16/ 16</div></div>
<!-- legend śr -->
<div class="h cZ pe" style="top:1499px;height:151px">Pe.</div><div class="q cQ" style="top:1499px;height:151px">Podstawy ekonomii</div>
<div class="h cZ" style="top:1650px;height:84px">w 20</div><div class="qs cQ" style="top:1650px;height:84px">prof. dr hab. Kościelecki Lech</div>
<div class="h cZ" style="top:1734px;height:98px">ć 22</div><div class="qs cQ" style="top:1734px;height:98px">prof. dr hab. Kościelecki Lech</div>
<div class="h cZ pi" style="top:1832px;height:99px">Pi</div><div class="q cQ" style="top:1832px;height:99px">Podstawy informatyki</div>
<div class="h cZ" style="top:1931px;height:99px">w 18</div><div class="qs cQ" style="top:1931px;height:99px">dr inż. Pokorski Grzegorz</div>
<div class="h cZ" style="top:2030px;height:114px">ć 22</div><div class="qs cQ" style="top:2030px;height:114px">dr inż. Pokorski Grzegorz</div>
<div class="h cZ rd sm" style="top:2144px;height:129px">PODST. STRZELAŃ - TEORIA I PRAKTYKA</div><div class="q cQ" style="top:2144px;height:129px">Podstawy strzelań - teoria i praktyka</div>

<!-- ============ CZW ============ -->
<div class="h s2" style="top:2273px;height:29px">18<br>IX</div><div class="h s3" style="top:2273px;height:29px">25<br>IX</div>
<div class="h cA" style="top:2273px;height:29px">02 X</div><div class="h cB" style="top:2273px;height:29px">09 X</div><div class="h cC" style="top:2273px;height:29px">16 X</div><div class="h cD" style="top:2273px;height:29px">23 X</div><div class="h cE" style="top:2273px;height:29px">30 X</div><div class="h cF" style="top:2273px;height:29px">06 XI</div><div class="h cG" style="top:2273px;height:29px">13 XI</div><div class="h cH" style="top:2273px;height:29px">20 XI</div><div class="h cI" style="top:2273px;height:29px">27 XI</div><div class="h cJ" style="top:2273px;height:29px">04 XII</div><div class="h cK" style="top:2273px;height:29px">11 XII</div><div class="h cL" style="top:2273px;height:29px">18 XII</div><div class="h cX1" style="top:2273px;height:29px">25<br>XII</div><div class="h cX2" style="top:2273px;height:29px">01<br>I</div><div class="h cM" style="top:2273px;height:29px">08 I</div><div class="h cN" style="top:2273px;height:29px">15 I</div><div class="h cO" style="top:2273px;height:29px">22 I</div><div class="h cP" style="top:2273px;height:29px">29 I</div><div class="h f1" style="top:2273px;height:29px">05<br>II</div><div class="h f2" style="top:2273px;height:29px">12<br>II</div><div class="h f3" style="top:2273px;height:29px">19<br>II</div><div class="h f4" style="top:2273px;height:29px">26<br>II</div>
<div class="h cZ" style="top:2273px;height:29px;background:#fff">w 20</div><div class="qs cQ" style="top:2273px;height:29px;background:#fff">mgr Trzcińska Luiza</div>
<div class="dl" style="top:2705px">czw.</div>
<div class="hr" style="top:2302px;height:95px">1-2</div><div class="hr" style="top:2397px;height:114px">3-4</div><div class="hr" style="top:2511px;height:115px">5-6</div><div class="hr" style="top:2626px;height:95px">7-8</div><div class="hr" style="top:2721px;height:239px">9-<br>10</div><div class="hr" style="top:2960px;height:99px">11-<br>12</div><div class="hr" style="top:3059px;height:113px">13-<br>14</div>

<div class="b oi cJ" style="top:2302px;height:95px"><div><b>Oin(w)</b><br>WLO25AX1S1;<br>WLO25AX4S1;<br>WLO25AX3S1;<br>WLO25AX2S1<br>Ka.E.<br>1.10/ 16;1.9/ 16</div></div>
<div class="b lg cL" style="top:2302px;height:95px"><div><b>Lg(ć)</b><br>WLO25AX2S1<br>Sku<br>1.9/ 16</div></div>
<div class="b lg cM" style="top:2302px;height:95px"><div><b>Lg(ć)</b><br>WLO25AX2S1<br>Sku<br>2.21/ 135</div></div>
<div class="b org cO" style="top:2302px;height:95px"><div><b>Org. i zarz. w admin.publ. (ć)</b><br>WLO25AX2S1<br>D-SM<br>5.17/ 135</div></div>
<div class="b pe cP" style="top:2302px;height:95px"><div><b>Pe.(ć)</b><br>WLO25AX2S1<br>Koś.L.<br>2.21/ 135</div></div>
<div class="b rd cB" style="top:2397px;height:114px"><div><b>PODST. STRZELAŃ - TEORIA I PRA(w)</b><br>WLO25AX1S1;<br>WLO25AX4S1;<br>WLO25AX3S1;<br>WLO25AX2S1<br>Trz.L.<br>3.8/ 75</div></div>
<div class="b lg cH" style="top:2397px;height:114px"><div><b>Lg(ć)</b><br>WLO25AX2S1<br>Sku<br>2.2/ 135</div></div>
<div class="b rd cI" style="top:2397px;height:114px"><div><b>PODST. STRZELAŃ - TEORIA I PRA(ć)</b><br>WLO25AX2S1<br>D-SM<br>5.27/ 135</div></div>
<div class="b oi cJ" style="top:2397px;height:114px"><div><b>Oin(w)</b><br>WLO25AX1S1;<br>WLO25AX4S1;<br>WLO25AX3S1;<br>WLO25AX2S1<br>Ka.E.<br>1.10/ 16;1.9/ 16</div></div>
<div class="b lg cL" style="top:2397px;height:114px"><div><b>Lg(ć)</b><br>WLO25AX2S1<br>Sku<br>1.9/ 16</div></div>
<div class="b pe cM" style="top:2397px;height:114px"><div><b>Pe.(ć)</b><br>WLO25AX2S1<br>Koś.L.<br>aF S</div></div>
<div class="b org cO" style="top:2397px;height:114px"><div><b>Org. i zarz. w admin.publ. (ć)</b><br>WLO25AX2S1<br>D-SM<br>5.17/ 135</div></div>
<div class="b pe cP" style="top:2397px;height:114px"><div><b>Pe.(ć)</b><br>WLO25AX2S1<br>Koś.L.<br>2.21/ 135</div></div>
<div class="b rd cB" style="top:2511px;height:115px"><div><b>PODST. STRZELAŃ - TEORIA I PRA(w)</b><br>WLO25AX1S1;<br>WLO25AX4S1;<br>WLO25AX3S1;<br>WLO25AX2S1<br>Trz.L.<br>3.8/ 75</div></div>
<div class="b lg cH" style="top:2511px;height:115px"><div><b>Lg(ć)</b><br>WLO25AX2S1<br>Sku<br>0.19/ 135</div></div>
<div class="b rd cI" style="top:2511px;height:115px"><div><b>PODST. STRZELAŃ - TEORIA I PRA(ć)</b><br>WLO25AX2S1<br>D-SM<br>5.27/ 135</div></div>
<div class="b lg cJ" style="top:2511px;height:115px"><div><b>Lg(w)</b><br>WLO25AX1S1;<br>WLO25AX4S1;<br>WLO25AX3S1;<br>WLO25AX2S1<br>Sku<br>1.10/ 16;1.9/ 16</div></div>
<div class="b lg cK" style="top:2511px;height:115px"><div><b>Lg(w)</b><br>WLO25AX1S1;<br>WLO25AX4S1;<br>WLO25AX3S1;<br>WLO25AX2S1<br>Sku<br>1.10/ 16;1.5/ 16</div></div>
<div class="b rd cL" style="top:2511px;height:115px"><div><b>PODST. STRZELAŃ - TEORIA I PRA(ć)</b><br>WLO25AX2S1<br>D-SM<br>5.27/ 135</div></div>
<div class="b rd cM" style="top:2511px;height:115px"><div><b>PODST. STRZELAŃ - TEORIA I PRA(ć)</b><br>WLO25AX2S1<br>D-SM<br>5.27/ 135</div></div>
<div class="b lg cN" style="top:2511px;height:115px"><div><b>Lg(w)</b><br>WLO25AX1S1;<br>WLO25AX4S1;<br>WLO25AX3S1;<br>WLO25AX2S1<br>Sku<br>3.17 S</div></div>
<div class="b org cP" style="top:2511px;height:115px"><div><b>Org. i zarz. w admin.publ. (ć)</b><br>WLO25AX2S1<br>D-SM</div></div>
<div class="b mi cB" style="top:2626px;height:95px"><div><b>W d N o Pi P(w)</b><br>WLO25AX1S1;<br>WLO25AX4S1;<br>WLO25AX3S1;<br>WLO25AX2S1<br>Ko. W.<br>aF S</div></div>
<div class="b rd cE" style="top:2626px;height:95px"><div><b>PODST. STRZELAŃ - TEORIA I PRA(ć)</b><br>WLO25AX2S1<br>D-SM<br>5.27/ 135</div></div>
<div class="b mi cH" style="top:2626px;height:95px"><div><b>W d N o Pi P(ć)</b><br>WLO25AX2S1<br>Trz.L.<br>2/ 22</div></div>
<div class="b lg cJ" style="top:2626px;height:95px"><div><b>Lg(w)</b><br>WLO25AX1S1;<br>WLO25AX4S1;<br>WLO25AX3S1;<br>WLO25AX2S1<br>Sku<br>1.10/ 16;1.9/ 16</div></div>
<div class="b lg cK" style="top:2626px;height:95px"><div><b>Lg(w)</b><br>WLO25AX1S1;<br>WLO25AX4S1;<br>WLO25AX3S1;<br>WLO25AX2S1<br>Sku<br>1.10/ 16;1.9/ 16</div></div>
<div class="b rd cL" style="top:2626px;height:95px"><div><b>PODST. STRZELAŃ - TEORIA I PRA(ć)</b><br>WLO25AX2S1<br>D-SM<br>5.27/ 135</div></div>
<div class="b rd cM" style="top:2626px;height:95px"><div><b>PODST. STRZELAŃ - TEORIA I PRA(ć)</b><br>WLO25AX2S1<br>D-SM<br>5.27/ 135</div></div>
<div class="b lg cN" style="top:2626px;height:95px"><div><b>Lg(w)</b><br>WLO25AX1S1;<br>WLO25AX4S1;<br>WLO25AX3S1;<br>WLO25AX2S1<br>Sku<br>3.17 S</div></div>
<div class="b lg cO" style="top:2626px;height:95px"><div><b>Lg(ć)</b><br>WLO25AX2S1<br>Sku<br>0.8/ 16</div></div>
<div class="b org cP" style="top:2626px;height:95px"><div><b>Org. i zarz. w admin.publ. (ć)</b><br>WLO25AX2S1<br>D-SM</div></div>
<div class="b jo cB" style="top:2721px;height:239px"><div><b>JoM(ć)</b><br>WLO25AX4S1;<br>WLO25AX3S1;<br>WLO25AX2S1;<br>WLO25AX1S1;<br>WLO25ZX4S1;<br>WLO25ZX3S1;<br>WLO25ZX2S1;<br>WLO25ZX1S1;<br>WLO25RX4S1;<br>WLO25RX3S1;<br>WLO25RX2S1;<br>WLO25RX1S1;<br>WLO25FX3S1;<br>WLO25FX2S1;<br>WLO25FX1S1;<br>WLO25Px4S1;<br>WLO25Px3S1;<br>WLO25PX2S1;<br>WLO25PX1S1<br>231 K</div></div>
<div class="b jo cC" style="top:2721px;height:239px"><div><b>JoM(ć)</b><br>WLO25AX4S1;<br>WLO25AX3S1;<br>WLO25AX2S1;<br>WLO25AX1S1;<br>WLO25ZX4S1;<br>WLO25ZX3S1;<br>WLO25ZX2S1;<br>WLO25ZX1S1;<br>WLO25RX4S1;<br>WLO25RX3S1;<br>WLO25RX2S1;<br>WLO25RX1S1;<br>WLO25FX3S1;<br>WLO25FX2S1;<br>WLO25FX1S1;<br>WLO25Px4S1;<br>WLO25Px3S1;<br>WLO25PX2S1;<br>WLO25PX1S1<br>231 K</div></div>
<div class="b jo cD" style="top:2721px;height:239px"><div><b>JoM(ć)</b><br>WLO25AX4S1;<br>WLO25AX3S1;<br>WLO25AX2S1;<br>WLO25AX1S1;<br>WLO25ZX4S1;<br>WLO25ZX3S1;<br>WLO25ZX2S1;<br>WLO25ZX1S1;<br>WLO25RX4S1;<br>WLO25RX3S1;<br>WLO25RX2S1;<br>WLO25RX1S1;<br>WLO25FX3S1;<br>WLO25FX2S1;<br>WLO25FX1S1;<br>WLO25Px4S1;<br>WLO25Px3S1;<br>WLO25PX2S1;<br>WLO25PX1S1<br>231 K</div></div>
<div class="b jo cE" style="top:2721px;height:239px"><div><b>JoM(ć)</b><br>WLO25AX4S1;<br>WLO25AX3S1;<br>WLO25AX2S1;<br>WLO25AX1S1;<br>WLO25ZX4S1;<br>WLO25ZX3S1;<br>WLO25ZX2S1;<br>WLO25ZX1S1;<br>WLO25RX4S1;<br>WLO25RX3S1;<br>WLO25RX2S1;<br>WLO25RX1S1;<br>WLO25FX3S1;<br>WLO25FX2S1;<br>WLO25FX1S1;<br>WLO25Px4S1;<br>WLO25Px3S1;<br>WLO25PX2S1;<br>WLO25PX1S1<br>231 K</div></div>
<div class="b jo cF" style="top:2721px;height:239px"><div><b>JoM(ć)</b><br>WLO25AX4S1;<br>WLO25AX3S1;<br>WLO25AX2S1;<br>WLO25AX1S1;<br>WLO25ZX4S1;<br>WLO25ZX3S1;<br>WLO25ZX2S1;<br>WLO25ZX1S1;<br>WLO25RX4S1;<br>WLO25RX3S1;<br>WLO25RX2S1;<br>WLO25RX1S1;<br>WLO25FX3S1;<br>WLO25FX2S1;<br>WLO25FX1S1;<br>WLO25Px4S1;<br>WLO25Px3S1;<br>WLO25PX2S1;<br>WLO25PX1S1<br>231 K</div></div>
<div class="b jo cG" style="top:2721px;height:239px"><div><b>JoM(ć)</b><br>WLO25AX4S1;<br>WLO25AX3S1;<br>WLO25AX2S1;<br>WLO25AX1S1;<br>WLO25ZX4S1;<br>WLO25ZX3S1;<br>WLO25ZX2S1;<br>WLO25ZX1S1;<br>WLO25RX4S1;<br>WLO25RX3S1;<br>WLO25RX2S1;<br>WLO25RX1S1;<br>WLO25FX3S1;<br>WLO25FX2S1;<br>WLO25FX1S1;<br>WLO25Px4S1;<br>WLO25Px3S1;<br>WLO25PX2S1;<br>WLO25PX1S1<br>231 K</div></div>
<div class="b jo cH" style="top:2721px;height:239px"><div><b>JoM(ć)</b><br>WLO25AX4S1;<br>WLO25AX3S1;<br>WLO25AX2S1;<br>WLO25AX1S1;<br>WLO25ZX4S1;<br>WLO25ZX3S1;<br>WLO25ZX2S1;<br>WLO25ZX1S1;<br>WLO25RX4S1;<br>WLO25RX3S1;<br>WLO25RX2S1;<br>WLO25RX1S1;<br>WLO25FX3S1;<br>WLO25FX2S1;<br>WLO25FX1S1;<br>WLO25Px4S1;<br>WLO25Px3S1;<br>WLO25PX2S1;<br>WLO25PX1S1<br>231 K</div></div>
<div class="b jo cI" style="top:2721px;height:239px"><div><b>JoM(ć)</b><br>WLO25AX4S1;<br>WLO25AX3S1;<br>WLO25AX2S1;<br>WLO25AX1S1;<br>WLO25ZX4S1;<br>WLO25ZX3S1;<br>WLO25ZX2S1;<br>WLO25ZX1S1;<br>WLO25RX4S1;<br>WLO25RX3S1;<br>WLO25RX2S1;<br>WLO25RX1S1;<br>WLO25FX3S1;<br>WLO25FX2S1;<br>WLO25FX1S1;<br>WLO25Px4S1;<br>WLO25Px3S1;<br>WLO25PX2S1;<br>WLO25PX1S1<br>231 K</div></div>
<div class="b jo cJ" style="top:2721px;height:239px"><div><b>JoM(ć)</b><br>WLO25AX4S1;<br>WLO25AX3S1;<br>WLO25AX2S1;<br>WLO25AX1S1;<br>WLO25ZX4S1;<br>WLO25ZX3S1;<br>WLO25ZX2S1;<br>WLO25ZX1S1;<br>WLO25RX4S1;<br>WLO25RX3S1;<br>WLO25RX2S1;<br>WLO25RX1S1;<br>WLO25FX3S1;<br>WLO25FX2S1;<br>WLO25FX1S1;<br>WLO25Px4S1;<br>WLO25Px3S1;<br>WLO25PX2S1;<br>WLO25PX1S1<br>231 K</div></div>
<div class="b jo cK" style="top:2721px;height:239px"><div><b>JoM(ć)</b><br>WLO25AX4S1;<br>WLO25AX3S1;<br>WLO25AX2S1;<br>WLO25AX1S1;<br>WLO25ZX4S1;<br>WLO25ZX3S1;<br>WLO25ZX2S1;<br>WLO25ZX1S1;<br>WLO25RX4S1;<br>WLO25RX3S1;<br>WLO25RX2S1;<br>WLO25RX1S1;<br>WLO25FX3S1;<br>WLO25FX2S1;<br>WLO25FX1S1;<br>WLO25Px4S1;<br>WLO25Px3S1;<br>WLO25PX2S1;<br>WLO25PX1S1<br>231 K</div></div>
<div class="b jo cL" style="top:2721px;height:239px"><div><b>JoM(ć)</b><br>WLO25AX4S1;<br>WLO25AX3S1;<br>WLO25AX2S1;<br>WLO25AX1S1;<br>WLO25ZX4S1;<br>WLO25ZX3S1;<br>WLO25ZX2S1;<br>WLO25ZX1S1;<br>WLO25RX4S1;<br>WLO25RX3S1;<br>WLO25RX2S1;<br>WLO25RX1S1;<br>WLO25FX3S1;<br>WLO25FX2S1;<br>WLO25FX1S1;<br>WLO25Px4S1;<br>WLO25Px3S1;<br>WLO25PX2S1;<br>WLO25PX1S1<br>231 K</div></div>
<div class="b jo cM" style="top:2721px;height:239px"><div><b>JoM(ć)</b><br>WLO25AX4S1;<br>WLO25AX3S1;<br>WLO25AX2S1;<br>WLO25AX1S1;<br>WLO25ZX4S1;<br>WLO25ZX3S1;<br>WLO25ZX2S1;<br>WLO25ZX1S1;<br>WLO25RX4S1;<br>WLO25RX3S1;<br>WLO25RX2S1;<br>WLO25RX1S1;<br>WLO25FX3S1;<br>WLO25FX2S1;<br>WLO25FX1S1;<br>WLO25Px4S1;<br>WLO25Px3S1;<br>WLO25PX2S1;<br>WLO25PX1S1<br>231 K</div></div>
<div class="b jo cN" style="top:2721px;height:239px"><div><b>JoM(ć)</b><br>WLO25AX4S1;<br>WLO25AX3S1;<br>WLO25AX2S1;<br>WLO25AX1S1;<br>WLO25ZX4S1;<br>WLO25ZX3S1;<br>WLO25ZX2S1;<br>WLO25ZX1S1;<br>WLO25RX4S1;<br>WLO25RX3S1;<br>WLO25RX2S1;<br>WLO25RX1S1;<br>WLO25FX3S1;<br>WLO25FX2S1;<br>WLO25FX1S1;<br>WLO25Px4S1;<br>WLO25Px3S1;<br>WLO25PX2S1;<br>WLO25PX1S1<br>231 K</div></div>
<div class="b jo cO" style="top:2721px;height:239px"><div><b>JoM(ć)</b><br>WLO25AX4S1;<br>WLO25AX3S1;<br>WLO25AX2S1;<br>WLO25AX1S1;<br>WLO25ZX4S1;<br>WLO25ZX3S1;<br>WLO25ZX2S1;<br>WLO25ZX1S1;<br>WLO25RX4S1;<br>WLO25RX3S1;<br>WLO25RX2S1;<br>WLO25RX1S1;<br>WLO25FX3S1;<br>WLO25FX2S1;<br>WLO25FX1S1;<br>WLO25Px4S1;<br>WLO25Px3S1;<br>WLO25PX2S1;<br>WLO25PX1S1<br>231 K</div></div>
<div class="b jo cP" style="top:2721px;height:239px"><div><b>JoM(ć)</b><br>WLO25AX4S1;<br>WLO25AX3S1;<br>WLO25AX2S1;<br>WLO25AX1S1;<br>WLO25ZX4S1;<br>WLO25ZX3S1;<br>WLO25ZX2S1;<br>WLO25ZX1S1;<br>WLO25RX4S1;<br>WLO25RX3S1;<br>WLO25RX2S1;<br>WLO25RX1S1;<br>WLO25FX3S1;<br>WLO25FX2S1;<br>WLO25FX1S1;<br>WLO25Px4S1;<br>WLO25Px3S1;<br>WLO25PX2S1;<br>WLO25PX1S1<br>231 K</div></div>
<div class="b mi cC" style="top:2960px;height:99px"><div><b>W d N o Pi P(w)</b><br>WLO25AX1S1;<br>WLO25AX4S1;<br>WLO25AX3S1;<br>WLO25AX2S1<br>Ko. W.<br>1.10/ 16;1.9/ 16</div></div>
<div class="b sy cD" style="top:2960px;height:99px"><div><b>SYS. BEZP. NARODOWEGO(ć)</b><br>WLO25AX2S1<br>TK<br>0.22/ 16</div></div>
<div class="b pe cE" style="top:2960px;height:99px"><div><b>Pe.(ć)</b><br>WLO25AX2S1<br>Koś.L.<br>255 S</div></div>
<div class="b sy cG" style="top:2960px;height:99px"><div><b>SYS. BEZP. NARODOWEGO(w)</b><br>WLO25AX1S1;<br>WLO25AX4S1;<br>WLO25AX3S1;<br>WLO25AX2S1<br>TK<br>1.10/ 16;1.9/ 16</div></div>
<div class="b et cI" style="top:2960px;height:99px"><div><b>ETYKA ZAWODOWA W ADM. PUB.(ć)</b><br>WLO25AX2S1<br>Świe.K<br>A.1.3/ 135</div></div>
<div class="b sy cK" style="top:2960px;height:99px"><div><b>SYS. BEZP. NARODOWEGO(w)</b><br>WLO25AX1S1;<br>WLO25AX4S1;<br>WLO25AX3S1;<br>WLO25AX2S1<br>TK<br>1.10/ 16;1.9/ 16</div></div>
<div class="b sy cL" style="top:2960px;height:99px"><div><b>SYS. BEZP. NARODOWEGO(ć)</b><br>WLO25AX2S1<br>TK<br>A.1.3/ 135</div></div>
<div class="b et cC" style="top:3059px;height:113px"><div><b>ETYKA ZAWODOWA W ADM. PUB.(w)</b><br>WLO25AX2S1;<br>WLO25AX1S1;<br>WLO25AX4S1;<br>WLO25AX3S1<br>Świe.K<br>1.10/ 16;1.9/ 16</div></div>
<div class="b sy cD" style="top:3059px;height:113px"><div><b>SYS. BEZP. NARODOWEGO(ć)</b><br>WLO25AX2S1<br>TK<br>0.22/ 16</div></div>
<div class="b pe cE" style="top:3059px;height:113px"><div><b>Pe.(ć)</b><br>WLO25AX2S1<br>Koś.L.<br>255 S</div></div>
<div class="b sy cG" style="top:3059px;height:113px"><div><b>SYS. BEZP. NARODOWEGO(w)</b><br>WLO25AX1S1;<br>WLO25AX4S1;<br>WLO25AX3S1;<br>WLO25AX2S1<br>TK<br>1.10/ 16;1.9/ 16</div></div>
<div class="b et cI" style="top:3059px;height:113px"><div><b>ETYKA ZAWODOWA W ADM. PUB.(ć)</b><br>WLO25AX2S1<br>Świe.K<br>A.1.3/ 135</div></div>
<!-- legend czw -->
<div class="h cZ" style="top:2302px;height:95px">ć 22</div><div class="qs cQ" style="top:2302px;height:95px">mgr Łapinowska - Świder Małgorzata</div>
<div class="h cZ sy sm" style="top:2397px;height:114px">SYS. BEZP. NARODOWEGO</div><div class="q cQ" style="top:2397px;height:114px">System bezpieczeństwa narodowego</div>
<div class="h cZ" style="top:2511px;height:115px">w 26</div><div class="qs cQ" style="top:2511px;height:115px">dr Kościelecki Tomasz</div>
<div class="h cZ" style="top:2626px;height:95px">ć 26</div><div class="qs cQ" style="top:2626px;height:95px">dr Kościelecki Tomasz</div>
<div class="h cZ jo" style="top:2721px;height:239px">WdS</div><div class="q cQ" style="top:2721px;height:239px">Wprowadzenie do studiowania</div>
<div class="h cZ" style="top:2960px;height:99px">w 6</div><div class="qs cQ" style="top:2960px;height:99px">dr Łakoma Ewa</div>
<div class="h cZ mi" style="top:3059px;height:113px">W d N o Pi P</div><div class="q cQ" style="top:3059px;height:113px">Wstęp do nauki o państwie i prawie</div>

<!-- ============ PT ============ -->
<div class="h s2" style="top:3172px;height:28px">19<br>IX</div><div class="h s3" style="top:3172px;height:28px">26<br>IX</div>
<div class="h cA" style="top:3172px;height:28px">03 X</div><div class="h cB" style="top:3172px;height:28px">10 X</div><div class="h cC" style="top:3172px;height:28px">17 X</div><div class="h cD" style="top:3172px;height:28px">24 X</div><div class="h cE" style="top:3172px;height:28px">31 X</div><div class="h cF" style="top:3172px;height:28px">07 XI</div><div class="h cG" style="top:3172px;height:28px">14 XI</div><div class="h cH" style="top:3172px;height:28px">21 XI</div><div class="h cI" style="top:3172px;height:28px">28 XI</div><div class="h cJ" style="top:3172px;height:28px">05 XII</div><div class="h cK" style="top:3172px;height:28px">12 XII</div><div class="h cL" style="top:3172px;height:28px">19 XII</div><div class="h cX1" style="top:3172px;height:28px">26<br>XII</div><div class="h cX2" style="top:3172px;height:28px">02<br>I</div><div class="h cM" style="top:3172px;height:28px">09 I</div><div class="h cN" style="top:3172px;height:28px">16 I</div><div class="h cO" style="top:3172px;height:28px">23 I</div><div class="h cP" style="top:3172px;height:28px">30 I</div><div class="h f1" style="top:3172px;height:28px">06<br>II</div><div class="h f2" style="top:3172px;height:28px">13<br>II</div><div class="h f3" style="top:3172px;height:28px">20<br>II</div><div class="h f4" style="top:3172px;height:28px">27<br>II</div>
<div class="h cZ" style="top:3172px;height:28px;background:#fff">w 26</div><div class="qs cQ" style="top:3172px;height:28px;background:#fff">dr Nowalski Waweryniec</div>
<div class="dl" style="top:3590px">pt.</div>
<div class="hr" style="top:3200px;height:51px">1-2</div><div class="hr" style="top:3251px;height:172px">3-4</div><div class="hr" style="top:3423px;height:99px">5-6</div><div class="hr" style="top:3522px;height:99px">7-8</div><div class="hr" style="top:3621px;height:84px">9-<br>10</div><div class="hr" style="top:3705px;height:150px">11-<br>12</div><div class="hr" style="top:3855px;height:151px">13-<br>14</div>

<div class="b pi cM" style="top:3200px;height:51px"><div><b>Pi(ć)</b><br>WLO25AX2S1<br>Pok<br>4.17a/ 135</div></div>
<div class="b pe cP" style="top:3200px;height:51px"><div><b>Pe.(ć)</b><br>WLO25AX2S1<br>Koś.L.<br>1.17/ 16</div></div>
<div class="b jo cA" style="top:3251px;height:172px"><div><b>WdS(w)</b><br>WLO25AX4S1;<br>WLO25AX3S1;<br>WLO25AX2S1;<br>WLO25AX1S1;<br>WLO25ZX4S1;<br>WLO25ZX3S1;<br>WLO25ZX2S1;<br>WLO25ZX1S1;<br>WLO25RX4S1;<br>WLO25RX3S1;<br>WLO25RX2S1;<br>WLO25RX1S1<br>Ł.E.<br>aula/ 135</div></div>
<div class="b jo cB" style="top:3251px;height:172px"><div><b>WdS(w)</b><br>WLO25AX4S1;<br>WLO25AX3S1;<br>WLO25AX2S1;<br>WLO25AX1S1;<br>WLO25ZX4S1;<br>WLO25ZX3S1;<br>WLO25ZX2S1;<br>WLO25ZX1S1;<br>WLO25RX4S1;<br>WLO25RX3S1;<br>WLO25RX2S1;<br>WLO25RX1S1<br>Ł.E.<br>aula/ 135</div></div>
<div class="b org cC" style="top:3251px;height:172px"><div><b>Org. i zarz. w admin.publ.(ć)</b><br>WLO25AX2S1<br>D-SM<br>0.23/ 16</div></div>
<div class="b jo cE" style="top:3251px;height:172px"><div><b>WdS(w)</b><br>WLO25AX4S1;<br>WLO25AX3S1;<br>WLO25AX2S1;<br>WLO25AX1S1;<br>WLO25ZX4S1;<br>WLO25ZX3S1;<br>WLO25ZX2S1;<br>WLO25ZX1S1;<br>WLO25RX4S1;<br>WLO25RX3S1;<br>WLO25RX2S1;<br>WLO25RX1S1<br>Ł.E.<br>aula/ 135</div></div>
<div class="b rd cG" style="top:3251px;height:172px"><div><b>PODST. STRZELAŃ - TEORIA I PRA(ć)</b><br>WLO25AX2S1<br>D-SM<br>5.27/ 135</div></div>
<div class="b pe cH" style="top:3251px;height:172px"><div><b>Pe.(w)</b><br>WLO25AX1S1;<br>WLO25AX4S1;<br>WLO25AX3S1;<br>WLO25AX2S1<br>Koś.L.<br>1.10/ 16;1.9/ 16</div></div>
<div class="b pe cL" style="top:3251px;height:172px"><div><b>Pe.(w)</b><br>WLO25AX4S1;<br>WLO25AX3S1;<br>WLO25AX2S1;<br>WLO25AX1S1<br>Koś.L.<br>aF S</div></div>
<div class="b pi cC" style="top:3423px;height:99px"><div><b>Pi(ć)</b><br>WLO25AX2S1<br>Pok<br>4.17a/ 135</div></div>
<div class="b rd cE" style="top:3423px;height:99px"><div><b>PODST. STRZELAŃ - TEORIA I PRA(ć)</b><br>WLO25AX2S1<br>D-SM<br>5.27/ 135</div></div>
<div class="b rd cG" style="top:3423px;height:99px"><div><b>PODST. STRZELAŃ - TEORIA I PRA(ć)</b><br>WLO25AX2S1<br>D-SM<br>5.27/ 135</div></div>
<div class="b pe cH" style="top:3423px;height:99px"><div><b>Pe.(w)</b><br>WLO25AX1S1;<br>WLO25AX4S1;<br>WLO25AX3S1;<br>WLO25AX2S1<br>Koś.L.<br>1.10/ 16;1.9/ 16</div></div>
<div class="b sy cL" style="top:3423px;height:99px"><div><b>SYS. BEZP. NARODOWEGO(w)</b><br>WLO25AX1S1;<br>WLO25AX4S1;<br>WLO25AX3S1;<br>WLO25AX2S1<br>TK<br>301/ S</div></div>
<div class="b pe cB" style="top:3522px;height:99px"><div><b>Pe.(w)</b><br>WLO25AX1S1;<br>WLO25AX4S1;<br>WLO25AX3S1;<br>WLO25AX2S1<br>Koś.L.<br>0.24/ 135</div></div>
<div class="b pi cC" style="top:3522px;height:99px"><div><b>Pi(ć)</b><br>WLO25AX2S1<br>Pok<br>4.17a/ 135</div></div>
<div class="b pe cD" style="top:3522px;height:99px"><div><b>Pe.(w)</b><br>WLO25AX1S1;<br>WLO25AX4S1;<br>WLO25AX3S1;<br>WLO25AX2S1<br>Koś.L.<br>1.10/ 16;1.9/ 16</div></div>
<div class="b rd cE" style="top:3522px;height:99px"><div><b>PODST. STRZELAŃ - TEORIA I PRA(ć)</b><br>WLO25AX2S1<br>D-SM<br>5.27/ 135</div></div>
<div class="b pe cG" style="top:3522px;height:99px"><div><b>Pe.(w)</b><br>WLO25AX1S1;<br>WLO25AX4S1;<br>WLO25AX3S1;<br>WLO25AX2S1<br>Koś.L.<br>1.10/ 16;1.9/ 16</div></div>
<div class="b pi cH" style="top:3522px;height:99px"><div><b>Pi(w)</b><br>WLO25AX1S1;<br>WLO25AX4S1;<br>WLO25AX3S1;<br>WLO25AX2S1<br>Pok<br>1.10/ 16;1.9/ 16</div></div>
<div class="b sy cL" style="top:3522px;height:99px"><div><b>SYS. BEZP. NARODOWEGO(w)</b><br>WLO25AX1S1;<br>WLO25AX4S1;<br>WLO25AX3S1;<br>WLO25AX2S1<br>TK<br>301/ S</div></div>
<div class="b pe cO" style="top:3522px;height:99px"><div><b>Pe.(ć)</b><br>WLO25AX2S1<br>Koś.L.<br>aula/ 135</div></div>
<div class="b pe cB" style="top:3621px;height:84px"><div><b>Pe.(w)</b><br>WLO25AX1S1;<br>WLO25AX4S1;<br>WLO25AX3S1;<br>WLO25AX2S1<br>Koś.L.<br>0.24/ 135</div></div>
<div class="b oi cC" style="top:3621px;height:84px"><div><b>Oin(w)</b><br>WLO25AX1S1;<br>WLO25AX4S1;<br>WLO25AX3S1;<br>WLO25AX2S1<br>Ka.E.<br>1.9/ 16;1.10/ 16</div></div>
<div class="b pe cD" style="top:3621px;height:84px"><div><b>Pe.(w)</b><br>WLO25AX1S1;<br>WLO25AX4S1;<br>WLO25AX3S1;<br>WLO25AX2S1<br>Koś.L.<br>1.10/ 16;1.9/ 16</div></div>
<div class="b pe cG" style="top:3621px;height:84px"><div><b>Pe.(w)</b><br>WLO25AX1S1;<br>WLO25AX4S1;<br>WLO25AX3S1;<br>WLO25AX2S1<br>Koś.L.<br>1.10/ 16;1.9/ 16</div></div>
<div class="b pi cH" style="top:3621px;height:84px"><div><b>Pi(w)</b><br>WLO25AX1S1;<br>WLO25AX4S1;<br>WLO25AX3S1;<br>WLO25AX2S1<br>Pok<br>1.10/ 16;1.9/ 16</div></div>
<div class="b pe cO" style="top:3621px;height:84px"><div><b>Pe.(ć)</b><br>WLO25AX2S1<br>Koś.L.<br>aula/ 135</div></div>
<div class="b sy cB" style="top:3705px;height:150px"><div><b>SYS. BEZP. NARODOWEGO(w)</b><br>WLO25AX1S1;<br>WLO25AX4S1;<br>WLO25AX3S1;<br>WLO25AX2S1<br>TK<br>0.24/ 135</div></div>
<div class="b oi cC" style="top:3705px;height:150px"><div><b>Oin(w)</b><br>WLO25AX1S1;<br>WLO25AX4S1;<br>WLO25AX3S1;<br>WLO25AX2S1<br>Ka.E.<br>1.9/ 16;1.10/ 16</div></div>
<div class="b pi cD" style="top:3705px;height:150px"><div><b>Pi(w)</b><br>WLO25AX1S1;<br>WLO25AX4S1;<br>WLO25AX3S1;<br>WLO25AX2S1<br>Pok<br>1.10/ 16;1.9/ 16</div></div>
<div class="b oi cG" style="top:3705px;height:150px"><div><b>Oin(w)</b><br>WLO25AX1S1;<br>WLO25AX4S1;<br>WLO25AX3S1;<br>WLO25AX2S1<br>Ka.E.<br>1.10/ 16;1.9/ 16</div></div>
<div class="b sy cH" style="top:3705px;height:150px"><div><b>SYS. BEZP. NARODOWEGO(ć)</b><br>WLO25AX2S1<br>TK<br>0.22/ 16</div></div>
<div class="b ja cJ" style="top:3705px;height:150px"><div><b>Ja(ć)</b><br>WLO25AX4S1;<br>WLO25AX3S1;<br>WLO25AX2S1;<br>WLO25AX1S1;<br>WLO25ZX4S1;<br>WLO25ZX3S1;<br>WLO25ZX2S1;<br>WLO25ZX1S1;<br>WLO25RX4S1;<br>WLO25RX3S1;<br>WLO25RX2S1;<br>WLO25RX1S1</div></div>
<div class="b org cK" style="top:3705px;height:150px"><div><b>Org. i zarz. w admin.publ.(ć)</b><br>WLO25AX2S1<br>D-SM<br>4.17a/ 135</div></div>
<div class="b rd cM" style="top:3705px;height:150px"><div><b>PODST. STRZELAŃ - TEORIA I PRA(w)</b><br>WLO25AX1S1;<br>WLO25AX4S1;<br>WLO25AX3S1;<br>WLO25AX2S1<br>Trz.L.<br>1.10/ 16;1.9/ 16</div></div>
<div class="b sy cB" style="top:3855px;height:151px"><div><b>SYS. BEZP. NARODOWEGO(w)</b><br>WLO25AX1S1;<br>WLO25AX4S1;<br>WLO25AX3S1;<br>WLO25AX2S1<br>TK<br>0.24/ 135</div></div>
<div class="b oi cG" style="top:3855px;height:151px"><div><b>Oin(w)</b><br>WLO25AX1S1;<br>WLO25AX4S1;<br>WLO25AX3S1;<br>WLO25AX2S1<br>Ka.E.<br>1.10/ 16;1.9/ 16</div></div>
<div class="b sy cH" style="top:3855px;height:151px"><div><b>SYS. BEZP. NARODOWEGO(ć)</b><br>WLO25AX2S1<br>TK<br>0.22/ 16</div></div>
<div class="b ja cJ" style="top:3855px;height:151px"><div><b>Ja(ć)</b><br>WLO25AX4S1;<br>WLO25AX3S1;<br>WLO25AX2S1;<br>WLO25AX1S1;<br>WLO25ZX4S1;<br>WLO25ZX3S1;<br>WLO25ZX2S1;<br>WLO25ZX1S1;<br>WLO25RX4S1;<br>WLO25RX3S1;<br>WLO25RX2S1;<br>WLO25RX1S1</div></div>
<div class="b org cK" style="top:3855px;height:151px"><div><b>Org. i zarz. w admin.publ.(ć)</b><br>WLO25AX2S1<br>D-SM<br>4.17a/ 135</div></div>
<div class="b rd cM" style="top:3855px;height:151px"><div><b>PODST. STRZELAŃ - TEORIA I PRA(w)</b><br>WLO25AX1S1;<br>WLO25AX4S1;<br>WLO25AX3S1;<br>WLO25AX2S1<br>Trz.L.<br>1.10/ 16;1.9/ 16</div></div>
<!-- legend pt -->
<div class="h cZ" style="top:3200px;height:51px">ć 26</div><div class="qs cQ" style="top:3200px;height:51px">mgr Trzcińska Luiza</div>
<div class="h cZ wf" style="top:3251px;height:172px">WF</div><div class="q cQ" style="top:3251px;height:172px">Wychowanie fizyczne</div>
<div class="h cZ" style="top:3423px;height:99px">ć 30</div><div class="qs cQ" style="top:3423px;height:99px">mgr Włodek Janusz</div>

<!-- ============ SOB ============ -->
<div class="h s1" style="top:4005px;height:26px">13<br>IX</div><div class="h s2" style="top:4005px;height:26px">20<br>IX</div><div class="h s3" style="top:4005px;height:26px">27<br>IX</div>
<div class="h cA" style="top:4005px;height:26px">04 X</div><div class="h cB" style="top:4005px;height:26px">11 X</div><div class="h cC" style="top:4005px;height:26px">18 X</div><div class="h cD" style="top:4005px;height:26px">25 X</div><div class="h cE" style="top:4005px;height:26px">01 XI</div><div class="h cF" style="top:4005px;height:26px">08 XI</div><div class="h cG" style="top:4005px;height:26px">15 XI</div><div class="h cH" style="top:4005px;height:26px">22 XI</div><div class="h cI" style="top:4005px;height:26px">29 XI</div><div class="h cJ" style="top:4005px;height:26px">06 XII</div><div class="h cK" style="top:4005px;height:26px">13 XII</div><div class="h cL" style="top:4005px;height:26px">20 XII</div><div class="h cX1" style="top:4005px;height:26px">27<br>XII</div><div class="h cX2" style="top:4005px;height:26px">03<br>I</div><div class="h cM" style="top:4005px;height:26px">10 I</div><div class="h cN" style="top:4005px;height:26px">17 I</div><div class="h cO" style="top:4005px;height:26px">24 I</div><div class="h cP" style="top:4005px;height:26px">31 I</div><div class="h f1" style="top:4005px;height:26px">07<br>II</div><div class="h f2" style="top:4005px;height:26px">14<br>II</div><div class="h f3" style="top:4005px;height:26px">21<br>II</div><div class="h f4" style="top:4005px;height:26px">28<br>II</div>
<div style="left:1711px;top:4005px;width:160px;height:26px;background:#fff"></div>
<div class="dl" style="top:4090px">sob.</div>
<div class="hr" style="top:4031px;height:14px">1-2</div><div class="hr" style="top:4045px;height:14px">3-4</div><div class="hr" style="top:4059px;height:14px">5-6</div><div class="hr" style="top:4073px;height:14px">7-8</div><div class="hr" style="top:4087px;height:26px">9-<br>10</div><div class="hr" style="top:4113px;height:25px">11-<br>12</div><div class="hr" style="top:4138px;height:25px">13-<br>14</div>

<!-- ============ NIEDZ ============ -->
<div class="h s1" style="top:4163px;height:26px">14<br>IX</div><div class="h s2" style="top:4163px;height:26px">21<br>IX</div><div class="h s3" style="top:4163px;height:26px">28<br>IX</div>
<div class="h cA" style="top:4163px;height:26px">05 X</div><div class="h cB" style="top:4163px;height:26px">12 X</div><div class="h cC" style="top:4163px;height:26px">19 X</div><div class="h cD" style="top:4163px;height:26px">26 X</div><div class="h cE" style="top:4163px;height:26px">02 XI</div><div class="h cF" style="top:4163px;height:26px">09 XI</div><div class="h cG" style="top:4163px;height:26px">16 XI</div><div class="h cH" style="top:4163px;height:26px">23 XI</div><div class="h cI" style="top:4163px;height:26px">30 XI</div><div class="h cJ" style="top:4163px;height:26px">07 XII</div><div class="h cK" style="top:4163px;height:26px">14 XII</div><div class="h cL" style="top:4163px;height:26px">21 XII</div><div class="h cX1" style="top:4163px;height:26px">28<br>XII</div><div class="h cX2" style="top:4163px;height:26px">04<br>I</div><div class="h cM" style="top:4163px;height:26px">11 I</div><div class="h cN" style="top:4163px;height:26px">18 I</div><div class="h cO" style="top:4163px;height:26px">25 I</div><div class="h cP" style="top:4163px;height:26px">01 II</div><div class="h f1" style="top:4163px;height:26px">08<br>II</div><div class="h f2" style="top:4163px;height:26px">15<br>II</div><div class="h f3" style="top:4163px;height:26px">22<br>II</div><div class="h f4" style="top:4163px;height:26px">01<br>III</div>
<div style="left:1711px;top:4163px;width:160px;height:26px;background:#fff"></div>
<div class="dl" style="top:4245px">niedz.</div>
<div class="hr" style="top:4189px;height:14px">1-2</div><div class="hr" style="top:4203px;height:14px">3-4</div><div class="hr" style="top:4217px;height:14px">5-6</div><div class="hr" style="top:4231px;height:14px">7-8</div><div class="hr" style="top:4245px;height:25px">9-<br>10</div><div class="hr" style="top:4270px;height:25px">11-<br>12</div><div class="hr" style="top:4295px;height:25px">13-<br>14</div>

<!-- ============ GRID LINES ============ -->
<div class="vl" style="left:9px"></div><div class="vl" style="left:36px"></div><div class="vl" style="left:53px"></div><div class="vl" style="left:66px"></div><div class="vl" style="left:79px"></div><div class="vl" style="left:92px"></div><div class="vl" style="left:161px"></div><div class="vl" style="left:272px"></div><div class="vl" style="left:384px"></div><div class="vl" style="left:492px"></div><div class="vl" style="left:561px"></div><div class="vl" style="left:637px"></div><div class="vl" style="left:750px"></div><div class="vl" style="left:860px"></div><div class="vl" style="left:938px"></div><div class="vl" style="left:1049px"></div><div class="vl" style="left:1162px"></div><div class="vl" style="left:1273px"></div><div class="vl" style="left:1290px"></div><div class="vl" style="left:1306px"></div><div class="vl" style="left:1415px"></div><div class="vl" style="left:1523px"></div><div class="vl" style="left:1591px"></div><div class="vl" style="left:1660px"></div><div class="vl" style="left:1673px"></div><div class="vl" style="left:1685px"></div><div class="vl" style="left:1698px"></div><div class="vl" style="left:1711px"></div><div class="vl" style="left:1787px"></div><div class="vl" style="left:1870px"></div>
<!-- month row verticals -->
<div class="vl" style="left:9px;top:8px;height:14px"></div><div class="vl" style="left:53px;top:8px;height:14px"></div><div class="vl" style="left:161px;top:8px;height:14px"></div><div class="vl" style="left:562px;top:8px;height:14px"></div><div class="vl" style="left:938px;top:8px;height:14px"></div><div class="vl" style="left:1306px;top:8px;height:14px"></div><div class="vl" style="left:1660px;top:8px;height:14px"></div><div class="vl" style="left:1711px;top:8px;height:14px"></div><div class="vl" style="left:1787px;top:8px;height:14px"></div><div class="vl" style="left:1870px;top:8px;height:14px"></div>
<!-- horizontal lines -->
<div class="hd" style="top:7px"></div><div class="hd" style="top:21px"></div>
<div class="hl" style="top:66px"></div><div class="hl" style="top:117px"></div><div class="hl" style="top:184px"></div><div class="hl" style="top:265px"></div><div class="hl" style="top:305px"></div><div class="hl" style="top:419px"></div><div class="hl" style="top:533px"></div>
<div class="hd" style="top:647px"></div>
<div class="hl" style="top:673px"></div><div class="hl" style="top:723px"></div><div class="hl" style="top:822px"></div><div class="hl" style="top:921px"></div><div class="hl" style="top:1050px"></div><div class="hl" style="top:1164px"></div><div class="hl" style="top:1278px"></div>
<div class="hd" style="top:1461px"></div>
<div class="hl" style="top:1498px"></div><div class="hl" style="top:1649px"></div><div class="hl" style="top:1733px"></div><div class="hl" style="top:1831px"></div><div class="hl" style="top:1930px"></div><div class="hl" style="top:2029px"></div><div class="hl" style="top:2143px"></div>
<div class="hd" style="top:2272px"></div>
<div class="hl" style="top:2301px"></div><div class="hl" style="top:2396px"></div><div class="hl" style="top:2510px"></div><div class="hl" style="top:2625px"></div><div class="hl" style="top:2720px"></div><div class="hl" style="top:2959px"></div><div class="hl" style="top:3058px"></div>
<div class="hd" style="top:3171px"></div>
<div class="hl" style="top:3199px"></div><div class="hl" style="top:3250px"></div><div class="hl" style="top:3422px"></div><div class="hl" style="top:3521px"></div><div class="hl" style="top:3620px"></div><div class="hl" style="top:3704px"></div><div class="hl" style="top:3854px"></div>
<div class="hd" style="top:4004px"></div>
<div class="hl" style="top:4030px"></div><div class="hl" style="top:4044px"></div><div class="hl" style="top:4058px"></div><div class="hl" style="top:4072px"></div><div class="hl" style="top:4086px"></div><div class="hl" style="top:4112px"></div><div class="hl" style="top:4137px"></div>
<div class="hd" style="top:4162px"></div>
<div class="hl" style="top:4188px"></div><div class="hl" style="top:4202px"></div><div class="hl" style="top:4216px"></div><div class="hl" style="top:4230px"></div><div class="hl" style="top:4244px"></div><div class="hl" style="top:4269px"></div><div class="hl" style="top:4294px"></div>
<div class="hd" style="top:4319px"></div>

<!-- footer -->
<div style="left:9px;top:4326px;font:10px 'Liberation Serif',serif;color:#000080">Data aktualizacji: 10.10.2025 14:51:35</div>
<div style="left:9px;top:4347px;width:1264px;height:2px;background:#a0a0a0"></div>
<div style="left:9px;top:4363px;font:10px 'Liberation Serif',serif;color:#000080">Dokument został utworzony za pomocą programu <span style="color:#0000ee;text-decoration:underline">Plansoft.org</span></div>
</body></html>
